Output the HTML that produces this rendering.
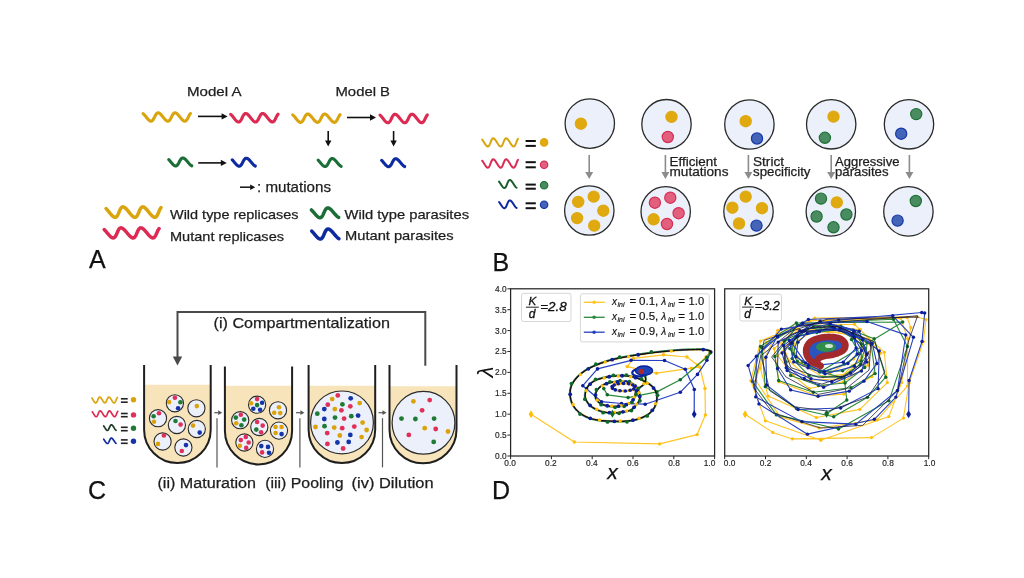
<!DOCTYPE html>
<html><head><meta charset="utf-8"><style>
html,body{margin:0;padding:0;background:#fff;}
svg{display:block;will-change:transform;filter:blur(0.3px);}
</style></head><body>
<svg width="1024" height="578" viewBox="0 0 1024 578">
<rect width="1024" height="578" fill="#fff"/>
<text x="187" y="95.6" font-family="Liberation Sans" font-size="13.4" fill="#1e1e1e" stroke="#1e1e1e" stroke-width="0.25" textLength="54.5" lengthAdjust="spacingAndGlyphs" style="" >Model A</text>
<text x="335.5" y="95.6" font-family="Liberation Sans" font-size="13.4" fill="#1e1e1e" stroke="#1e1e1e" stroke-width="0.25" textLength="54.5" lengthAdjust="spacingAndGlyphs" style="" >Model B</text>
<polyline points="143.10,113.64 143.79,114.27 144.50,115.03 145.23,115.88 145.96,116.80 146.70,117.72 147.43,118.60 148.14,119.41 148.84,120.10 149.52,120.65 150.17,121.01 150.79,121.19 151.37,121.16 151.93,120.93 152.46,120.51 152.96,119.92 153.44,119.19 153.90,118.36 154.35,117.46 154.80,116.53 155.25,115.63 155.72,114.80 156.20,114.07 156.70,113.49 157.23,113.07 157.78,112.84 158.37,112.81 158.99,112.99 159.64,113.36 160.31,113.90 161.01,114.60 161.73,115.41 162.46,116.29 163.19,117.21 163.93,118.12 164.65,118.98 165.36,119.74 166.05,120.37 166.72,120.84 167.35,121.12 167.96,121.20 168.53,121.08 169.07,120.76 169.59,120.26 170.08,119.61 170.55,118.82 171.01,117.96 171.46,117.04 171.91,116.12 172.36,115.25 172.83,114.45 173.32,113.79 173.83,113.27 174.37,112.94 174.94,112.80 175.55,112.87 176.18,113.13 176.84,113.58 177.53,114.20 178.24,114.95 178.96,115.80 179.69,116.71 180.43,117.63 181.16,118.52 181.88,119.34 182.58,120.04 183.26,120.60 183.91,120.99 184.53,121.18 185.12,121.17 185.68,120.96 186.21,120.56 186.71,119.98 187.19,119.27 187.66,118.44 188.11,117.54 188.56,116.62 189.01,115.72 189.47,114.87 189.95,114.13 190.45,113.53" fill="none" stroke="#D9A40E" stroke-width="3.1" stroke-linecap="round" stroke-linejoin="round"/>
<polyline points="230.70,114.31 231.39,114.95 232.10,115.73 232.83,116.61 233.56,117.54 234.30,118.48 235.03,119.39 235.74,120.22 236.44,120.93 237.12,121.48 237.77,121.86 238.39,122.04 238.97,122.01 239.53,121.77 240.06,121.34 240.56,120.74 241.04,119.99 241.50,119.14 241.95,118.22 242.40,117.27 242.85,116.35 243.32,115.50 243.80,114.75 244.30,114.15 244.83,113.72 245.38,113.49 245.97,113.46 246.59,113.64 247.24,114.02 247.91,114.58 248.61,115.29 249.33,116.12 250.06,117.03 250.79,117.97 251.53,118.90 252.25,119.78 252.96,120.56 253.65,121.20 254.32,121.68 254.95,121.96 255.56,122.05 256.13,121.93 256.67,121.60 257.19,121.09 257.68,120.42 258.15,119.62 258.61,118.73 259.06,117.79 259.51,116.85 259.96,115.95 260.43,115.14 260.92,114.46 261.43,113.94 261.97,113.59 262.54,113.45 263.15,113.52 263.78,113.79 264.44,114.25 265.13,114.88 265.84,115.65 266.56,116.52 267.29,117.45 268.03,118.40 268.76,119.31 269.48,120.15 270.18,120.87 270.86,121.44 271.51,121.83 272.13,122.03 272.72,122.02 273.28,121.80 273.81,121.39 274.31,120.80 274.79,120.07 275.26,119.22 275.71,118.31 276.16,117.36 276.61,116.44 277.07,115.57 277.55,114.82 278.05,114.20" fill="none" stroke="#DC2A52" stroke-width="3.1" stroke-linecap="round" stroke-linejoin="round"/>
<polyline points="292.70,114.84 293.39,115.47 294.10,116.23 294.83,117.08 295.56,118.00 296.30,118.92 297.03,119.80 297.74,120.61 298.44,121.30 299.12,121.85 299.77,122.21 300.39,122.39 300.97,122.36 301.53,122.13 302.06,121.71 302.56,121.12 303.04,120.39 303.50,119.56 303.95,118.66 304.40,117.73 304.85,116.83 305.32,116.00 305.80,115.27 306.30,114.69 306.83,114.27 307.38,114.04 307.97,114.01 308.59,114.19 309.24,114.56 309.91,115.10 310.61,115.80 311.33,116.61 312.06,117.49 312.79,118.41 313.53,119.32 314.25,120.18 314.96,120.94 315.65,121.57 316.32,122.04 316.95,122.32 317.56,122.40 318.13,122.28 318.67,121.96 319.19,121.46 319.68,120.81 320.15,120.02 320.61,119.16 321.06,118.24 321.51,117.32 321.96,116.45 322.43,115.65 322.92,114.99 323.43,114.47 323.97,114.14 324.54,114.00 325.15,114.07 325.78,114.33 326.44,114.78 327.13,115.40 327.84,116.15 328.56,117.00 329.29,117.91 330.03,118.83 330.76,119.72 331.48,120.54 332.18,121.24 332.86,121.80 333.51,122.19 334.13,122.38 334.72,122.37 335.28,122.16 335.81,121.76 336.31,121.18 336.79,120.47 337.26,119.64 337.71,118.74 338.16,117.82 338.61,116.92 339.07,116.07 339.55,115.33 340.05,114.73" fill="none" stroke="#D9A40E" stroke-width="3.1" stroke-linecap="round" stroke-linejoin="round"/>
<polyline points="380.00,115.06 380.69,115.70 381.40,116.48 382.13,117.36 382.86,118.29 383.60,119.23 384.33,120.14 385.04,120.97 385.74,121.68 386.42,122.23 387.07,122.61 387.69,122.79 388.27,122.76 388.83,122.52 389.36,122.09 389.86,121.49 390.34,120.74 390.80,119.89 391.25,118.97 391.70,118.02 392.15,117.10 392.62,116.25 393.10,115.50 393.60,114.90 394.13,114.47 394.68,114.24 395.27,114.21 395.89,114.39 396.54,114.77 397.21,115.33 397.91,116.04 398.63,116.87 399.36,117.78 400.09,118.72 400.83,119.65 401.55,120.53 402.26,121.31 402.95,121.95 403.62,122.43 404.25,122.71 404.86,122.80 405.43,122.68 405.97,122.35 406.49,121.84 406.98,121.17 407.45,120.37 407.91,119.48 408.36,118.54 408.81,117.60 409.26,116.70 409.73,115.89 410.22,115.21 410.73,114.69 411.27,114.34 411.84,114.20 412.45,114.27 413.08,114.54 413.74,115.00 414.43,115.63 415.14,116.40 415.86,117.27 416.59,118.20 417.33,119.15 418.06,120.06 418.78,120.90 419.48,121.62 420.16,122.19 420.81,122.58 421.43,122.78 422.02,122.77 422.58,122.55 423.11,122.14 423.61,121.55 424.09,120.82 424.56,119.97 425.01,119.06 425.46,118.11 425.91,117.19 426.37,116.32 426.85,115.57 427.35,114.95" fill="none" stroke="#DC2A52" stroke-width="3.1" stroke-linecap="round" stroke-linejoin="round"/>
<line x1="198" y1="116.4" x2="222.1" y2="116.4" stroke="#111" stroke-width="1.6"/>
<polygon points="227.6,116.4 221.6,113.2 221.6,119.60000000000001" fill="#111"/>
<line x1="347" y1="117.5" x2="370.5" y2="117.5" stroke="#111" stroke-width="1.6"/>
<polygon points="376,117.5 370,114.3 370,120.7" fill="#111"/>
<polyline points="168.75,159.60 169.08,159.94 169.42,160.30 169.75,160.68 170.09,161.08 170.43,161.48 170.77,161.89 171.11,162.30 171.46,162.70 171.80,163.10 172.13,163.48 172.47,163.85 172.80,164.20 173.13,164.53 173.45,164.83 173.77,165.10 174.08,165.33 174.39,165.53 174.69,165.70 174.99,165.82 175.28,165.90 175.56,165.94 175.83,165.94 176.10,165.90 176.36,165.82 176.62,165.70 176.87,165.54 177.11,165.34 177.35,165.10 177.58,164.83 177.81,164.53 178.03,164.21 178.25,163.86 178.46,163.49 178.67,163.11 178.89,162.71 179.09,162.30 179.30,161.89 179.51,161.49 179.72,161.08 179.93,160.69 180.15,160.31 180.36,159.94 180.58,159.60 180.80,159.28 181.03,158.99 181.27,158.73 181.50,158.51 181.75,158.32 182.00,158.17 182.26,158.05 182.52,157.98 182.79,157.95 183.07,157.96 183.35,158.02 183.64,158.11 183.94,158.25 184.24,158.42 184.55,158.63 184.87,158.87 185.19,159.15 185.51,159.46 185.84,159.79 186.17,160.15 186.51,160.52 186.85,160.91 187.19,161.31 187.53,161.71 187.87,162.12 188.21,162.53 188.55,162.93 188.89,163.32 189.23,163.70 189.56,164.06 189.89,164.39 190.21,164.70 190.54,164.99 190.85,165.24 191.16,165.45 191.47,165.63 191.76,165.77" fill="none" stroke="#1B6E38" stroke-width="3.1" stroke-linecap="round" stroke-linejoin="round"/>
<polyline points="232.25,159.85 232.58,160.19 232.92,160.55 233.25,160.93 233.59,161.33 233.93,161.73 234.27,162.14 234.61,162.55 234.96,162.95 235.30,163.35 235.63,163.73 235.97,164.10 236.30,164.45 236.63,164.78 236.95,165.08 237.27,165.35 237.58,165.58 237.89,165.78 238.19,165.95 238.49,166.07 238.78,166.15 239.06,166.19 239.33,166.19 239.60,166.15 239.86,166.07 240.12,165.95 240.37,165.79 240.61,165.59 240.85,165.35 241.08,165.08 241.31,164.78 241.53,164.46 241.75,164.11 241.96,163.74 242.17,163.36 242.39,162.96 242.59,162.55 242.80,162.14 243.01,161.74 243.22,161.33 243.43,160.94 243.65,160.56 243.86,160.19 244.08,159.85 244.30,159.53 244.53,159.24 244.77,158.98 245.00,158.76 245.25,158.57 245.50,158.42 245.76,158.30 246.02,158.23 246.29,158.20 246.57,158.21 246.85,158.27 247.14,158.36 247.44,158.50 247.74,158.67 248.05,158.88 248.37,159.12 248.69,159.40 249.01,159.71 249.34,160.04 249.67,160.40 250.01,160.77 250.35,161.16 250.69,161.56 251.03,161.96 251.37,162.37 251.71,162.78 252.05,163.18 252.39,163.57 252.73,163.95 253.06,164.31 253.39,164.64 253.71,164.95 254.04,165.24 254.35,165.49 254.66,165.70 254.97,165.88 255.26,166.02" fill="none" stroke="#0D2AA0" stroke-width="3.1" stroke-linecap="round" stroke-linejoin="round"/>
<polyline points="318.15,160.15 318.48,160.49 318.82,160.85 319.15,161.23 319.49,161.63 319.83,162.03 320.17,162.44 320.51,162.85 320.86,163.25 321.20,163.65 321.53,164.03 321.87,164.40 322.20,164.75 322.53,165.08 322.85,165.38 323.17,165.65 323.48,165.88 323.79,166.08 324.09,166.25 324.39,166.37 324.68,166.45 324.96,166.49 325.23,166.49 325.50,166.45 325.76,166.37 326.02,166.25 326.27,166.09 326.51,165.89 326.75,165.65 326.98,165.38 327.21,165.08 327.43,164.76 327.65,164.41 327.86,164.04 328.07,163.66 328.29,163.26 328.49,162.85 328.70,162.44 328.91,162.04 329.12,161.63 329.33,161.24 329.55,160.86 329.76,160.49 329.98,160.15 330.20,159.83 330.43,159.54 330.67,159.28 330.90,159.06 331.15,158.87 331.40,158.72 331.66,158.60 331.92,158.53 332.19,158.50 332.47,158.51 332.75,158.57 333.04,158.66 333.34,158.80 333.64,158.97 333.95,159.18 334.27,159.42 334.59,159.70 334.91,160.01 335.24,160.34 335.57,160.70 335.91,161.07 336.25,161.46 336.59,161.86 336.93,162.26 337.27,162.67 337.61,163.08 337.95,163.48 338.29,163.87 338.63,164.25 338.96,164.61 339.29,164.94 339.61,165.25 339.94,165.54 340.25,165.79 340.56,166.00 340.87,166.18 341.16,166.32" fill="none" stroke="#1B6E38" stroke-width="3.1" stroke-linecap="round" stroke-linejoin="round"/>
<polyline points="381.65,160.35 381.98,160.69 382.32,161.05 382.65,161.43 382.99,161.83 383.33,162.23 383.67,162.64 384.01,163.05 384.36,163.45 384.70,163.85 385.03,164.23 385.37,164.60 385.70,164.95 386.03,165.28 386.35,165.58 386.67,165.85 386.98,166.08 387.29,166.28 387.59,166.45 387.89,166.57 388.18,166.65 388.46,166.69 388.73,166.69 389.00,166.65 389.26,166.57 389.52,166.45 389.77,166.29 390.01,166.09 390.25,165.85 390.48,165.58 390.71,165.28 390.93,164.96 391.15,164.61 391.36,164.24 391.57,163.86 391.79,163.46 391.99,163.05 392.20,162.64 392.41,162.24 392.62,161.83 392.83,161.44 393.05,161.06 393.26,160.69 393.48,160.35 393.70,160.03 393.93,159.74 394.17,159.48 394.40,159.26 394.65,159.07 394.90,158.92 395.16,158.80 395.42,158.73 395.69,158.70 395.97,158.71 396.25,158.77 396.54,158.86 396.84,159.00 397.14,159.17 397.45,159.38 397.77,159.62 398.09,159.90 398.41,160.21 398.74,160.54 399.07,160.90 399.41,161.27 399.75,161.66 400.09,162.06 400.43,162.46 400.77,162.87 401.11,163.28 401.45,163.68 401.79,164.07 402.13,164.45 402.46,164.81 402.79,165.14 403.11,165.45 403.44,165.74 403.75,165.99 404.06,166.20 404.37,166.38 404.66,166.52" fill="none" stroke="#0D2AA0" stroke-width="3.1" stroke-linecap="round" stroke-linejoin="round"/>
<line x1="198.2" y1="162.9" x2="221.3" y2="162.9" stroke="#111" stroke-width="1.6"/>
<polygon points="226.8,162.9 220.8,159.70000000000002 220.8,166.1" fill="#111"/>
<line x1="328.2" y1="131" x2="328.2" y2="141.1" stroke="#111" stroke-width="1.6"/>
<polygon points="328.2,146.6 325.0,140.6 331.4,140.6" fill="#111"/>
<line x1="393.6" y1="131" x2="393.6" y2="141.1" stroke="#111" stroke-width="1.6"/>
<polygon points="393.6,146.6 390.40000000000003,140.6 396.8,140.6" fill="#111"/>
<line x1="240" y1="187.2" x2="250.7" y2="187.2" stroke="#111" stroke-width="1.5"/>
<polygon points="255.2,187.2 250.2,184.39999999999998 250.2,190.0" fill="#111"/>
<text x="257" y="191.5" font-family="Liberation Sans" font-size="14" fill="#1e1e1e" stroke="#1e1e1e" stroke-width="0.25" textLength="74" lengthAdjust="spacingAndGlyphs" style="" >: mutations</text>
<polyline points="106.08,208.60 106.96,209.53 107.86,210.58 108.77,211.71 109.69,212.85 110.60,213.96 111.50,214.98 112.36,215.86 113.19,216.56 113.98,217.06 114.72,217.31 115.41,217.32 116.05,217.09 116.65,216.61 117.20,215.92 117.72,215.05 118.20,214.04 118.67,212.94 119.13,211.80 119.60,210.67 120.07,209.61 120.58,208.67 121.11,207.89 121.68,207.31 122.30,206.96 122.97,206.85 123.69,206.99 124.45,207.37 125.26,207.98 126.11,208.78 126.99,209.74 127.90,210.81 128.81,211.95 129.73,213.09 130.64,214.18 131.53,215.17 132.39,216.02 133.21,216.68 133.99,217.13 134.72,217.34 135.40,217.29 136.03,217.01 136.62,216.48 137.16,215.76 137.67,214.85 138.15,213.82 138.62,212.71 139.08,211.56 139.54,210.44 140.03,209.41 140.53,208.49 141.07,207.75 141.66,207.22 142.29,206.92 142.96,206.86 143.69,207.05 144.47,207.48 145.29,208.13 146.14,208.97 147.03,209.96 147.94,211.05 148.86,212.18 149.77,213.32 150.68,214.40 151.56,215.36 152.41,216.18 153.22,216.80 153.99,217.19 154.71,217.35 155.38,217.25 156.01,216.92 156.58,216.35 157.12,215.58 157.62,214.65 158.10,213.59 158.56,212.47 159.03,211.33 159.49,210.22 159.98,209.20 160.49,208.32 161.04,207.62" fill="none" stroke="#D9A40E" stroke-width="3.5" stroke-linecap="round" stroke-linejoin="round"/>
<polyline points="104.18,229.54 105.06,230.43 105.96,231.44 106.87,232.52 107.79,233.62 108.70,234.69 109.60,235.67 110.46,236.52 111.29,237.19 112.08,237.67 112.82,237.92 113.51,237.92 114.15,237.70 114.75,237.24 115.30,236.58 115.82,235.74 116.30,234.77 116.77,233.71 117.23,232.61 117.70,231.53 118.17,230.51 118.68,229.60 119.21,228.85 119.78,228.29 120.40,227.95 121.07,227.85 121.79,227.99 122.55,228.35 123.36,228.94 124.21,229.71 125.09,230.63 126.00,231.66 126.91,232.75 127.83,233.85 128.74,234.90 129.63,235.86 130.49,236.67 131.31,237.31 132.09,237.74 132.82,237.94 133.50,237.90 134.13,237.62 134.72,237.12 135.26,236.42 135.77,235.55 136.25,234.55 136.72,233.48 137.18,232.38 137.64,231.31 138.13,230.31 138.63,229.43 139.17,228.72 139.76,228.20 140.39,227.91 141.06,227.86 141.79,228.04 142.57,228.46 143.39,229.08 144.24,229.89 145.13,230.84 146.04,231.89 146.96,232.98 147.87,234.07 148.78,235.11 149.66,236.04 150.51,236.82 151.32,237.42 152.09,237.80 152.81,237.95 153.48,237.86 154.11,237.53 154.68,236.99 155.22,236.25 155.72,235.35 156.20,234.34 156.66,233.25 157.13,232.16 157.59,231.09 158.08,230.11 158.59,229.27 159.14,228.59" fill="none" stroke="#DC2A52" stroke-width="3.5" stroke-linecap="round" stroke-linejoin="round"/>
<polyline points="311.38,209.92 311.79,210.33 312.21,210.78 312.63,211.24 313.05,211.72 313.48,212.21 313.91,212.71 314.33,213.20 314.76,213.70 315.19,214.18 315.61,214.65 316.03,215.10 316.44,215.53 316.85,215.93 317.25,216.29 317.64,216.63 318.02,216.92 318.40,217.16 318.76,217.37 319.11,217.52 319.46,217.63 319.79,217.69 320.12,217.70 320.43,217.65 320.73,217.56 321.02,217.42 321.30,217.23 321.57,216.99 321.83,216.71 322.08,216.39 322.33,216.03 322.57,215.64 322.80,215.22 323.02,214.78 323.24,214.31 323.46,213.83 323.68,213.34 323.89,212.85 324.11,212.35 324.32,211.85 324.54,211.37 324.76,210.90 324.99,210.45 325.22,210.03 325.45,209.63 325.70,209.27 325.95,208.94 326.21,208.66 326.48,208.41 326.75,208.21 327.04,208.06 327.34,207.96 327.65,207.91 327.97,207.91 328.31,207.95 328.65,208.05 329.00,208.20 329.36,208.39 329.74,208.64 330.12,208.92 330.51,209.24 330.91,209.60 331.31,210.00 331.72,210.42 332.14,210.87 332.56,211.33 332.99,211.81 333.41,212.31 333.84,212.80 334.27,213.30 334.70,213.79 335.12,214.28 335.54,214.74 335.96,215.19 336.37,215.61 336.77,216.00 337.17,216.36 337.56,216.69 337.95,216.97 338.32,217.21 338.68,217.40" fill="none" stroke="#1B6E38" stroke-width="3.5" stroke-linecap="round" stroke-linejoin="round"/>
<polyline points="311.68,231.06 312.09,231.48 312.51,231.93 312.93,232.41 313.35,232.90 313.78,233.40 314.21,233.90 314.63,234.41 315.06,234.92 315.49,235.41 315.91,235.89 316.33,236.35 316.74,236.79 317.15,237.19 317.55,237.57 317.94,237.90 318.32,238.20 318.70,238.45 319.06,238.66 319.41,238.82 319.76,238.93 320.09,238.99 320.42,239.00 320.73,238.95 321.03,238.86 321.32,238.71 321.60,238.52 321.87,238.28 322.13,237.99 322.38,237.66 322.63,237.30 322.87,236.90 323.10,236.47 323.32,236.02 323.54,235.55 323.76,235.05 323.98,234.55 324.19,234.05 324.41,233.54 324.62,233.04 324.84,232.54 325.06,232.06 325.29,231.61 325.52,231.17 325.75,230.77 326.00,230.40 326.25,230.07 326.51,229.77 326.78,229.52 327.05,229.32 327.34,229.17 327.64,229.06 327.95,229.01 328.27,229.01 328.61,229.05 328.95,229.16 329.30,229.31 329.66,229.50 330.04,229.75 330.42,230.04 330.81,230.37 331.21,230.74 331.61,231.14 332.02,231.57 332.44,232.03 332.86,232.50 333.29,232.99 333.71,233.50 334.14,234.00 334.57,234.51 335.00,235.01 335.42,235.51 335.84,235.98 336.26,236.44 336.67,236.87 337.07,237.27 337.47,237.64 337.86,237.97 338.25,238.25 338.62,238.50 338.98,238.70" fill="none" stroke="#0D2AA0" stroke-width="3.5" stroke-linecap="round" stroke-linejoin="round"/>
<text x="170" y="219.4" font-family="Liberation Sans" font-size="13.4" fill="#1e1e1e" stroke="#1e1e1e" stroke-width="0.25" textLength="128.5" lengthAdjust="spacingAndGlyphs" style="" >Wild type replicases</text>
<text x="170" y="240.6" font-family="Liberation Sans" font-size="13.4" fill="#1e1e1e" stroke="#1e1e1e" stroke-width="0.25" textLength="114" lengthAdjust="spacingAndGlyphs" style="" >Mutant replicases</text>
<text x="344.5" y="219.1" font-family="Liberation Sans" font-size="13.4" fill="#1e1e1e" stroke="#1e1e1e" stroke-width="0.25" textLength="124.5" lengthAdjust="spacingAndGlyphs" style="" >Wild type parasites</text>
<text x="345" y="240.0" font-family="Liberation Sans" font-size="13.4" fill="#1e1e1e" stroke="#1e1e1e" stroke-width="0.25" textLength="108.5" lengthAdjust="spacingAndGlyphs" style="" >Mutant parasites</text>
<text x="89" y="268" font-family="Liberation Sans" font-size="25" fill="#111" stroke="#111" stroke-width="0.25" style="" >A</text>
<circle cx="589.8" cy="123.6" r="24.7" fill="#EBF0FA" stroke="#2b2b2b" stroke-width="1.3"/>
<circle cx="580.9" cy="123.7" r="5.6000000000000005" fill="#DFA90F" stroke="#DFA90F" stroke-width="1.2"/>
<circle cx="666.5" cy="124.2" r="24.7" fill="#EBF0FA" stroke="#2b2b2b" stroke-width="1.3"/>
<circle cx="671.5" cy="116.9" r="5.6000000000000005" fill="#DFA90F" stroke="#DFA90F" stroke-width="1.2"/>
<circle cx="667.8" cy="137.0" r="5.6000000000000005" fill="#E2607E" stroke="#D42E55" stroke-width="1.2"/>
<circle cx="749.4" cy="124.5" r="24.7" fill="#EBF0FA" stroke="#2b2b2b" stroke-width="1.3"/>
<circle cx="745.7" cy="121.2" r="5.6000000000000005" fill="#DFA90F" stroke="#DFA90F" stroke-width="1.2"/>
<circle cx="757.0" cy="138.5" r="5.6000000000000005" fill="#4464B8" stroke="#1537A8" stroke-width="1.2"/>
<circle cx="831.2" cy="124.3" r="24.7" fill="#EBF0FA" stroke="#2b2b2b" stroke-width="1.3"/>
<circle cx="833.5" cy="116.6" r="5.6000000000000005" fill="#DFA90F" stroke="#DFA90F" stroke-width="1.2"/>
<circle cx="824.9" cy="137.8" r="5.6000000000000005" fill="#4B8B62" stroke="#1D7234" stroke-width="1.2"/>
<circle cx="909.0" cy="124.3" r="24.7" fill="#EBF0FA" stroke="#2b2b2b" stroke-width="1.3"/>
<circle cx="916.2" cy="114.1" r="5.6000000000000005" fill="#4B8B62" stroke="#1D7234" stroke-width="1.2"/>
<circle cx="901.2" cy="133.7" r="5.6000000000000005" fill="#4464B8" stroke="#1537A8" stroke-width="1.2"/>
<circle cx="589.3" cy="210.5" r="24.7" fill="#EBF0FA" stroke="#2b2b2b" stroke-width="1.3"/>
<circle cx="593.7" cy="196.6" r="5.6000000000000005" fill="#DFA90F" stroke="#DFA90F" stroke-width="1.2"/>
<circle cx="578.2" cy="201.9" r="5.6000000000000005" fill="#DFA90F" stroke="#DFA90F" stroke-width="1.2"/>
<circle cx="603.3" cy="210.7" r="5.6000000000000005" fill="#DFA90F" stroke="#DFA90F" stroke-width="1.2"/>
<circle cx="577.1" cy="218.1" r="5.6000000000000005" fill="#DFA90F" stroke="#DFA90F" stroke-width="1.2"/>
<circle cx="594.2" cy="225.6" r="5.6000000000000005" fill="#DFA90F" stroke="#DFA90F" stroke-width="1.2"/>
<circle cx="665.7" cy="211.4" r="24.7" fill="#EBF0FA" stroke="#2b2b2b" stroke-width="1.3"/>
<circle cx="670.3" cy="197.7" r="5.6000000000000005" fill="#E2607E" stroke="#D42E55" stroke-width="1.2"/>
<circle cx="654.9" cy="202.7" r="5.6000000000000005" fill="#E2607E" stroke="#D42E55" stroke-width="1.2"/>
<circle cx="678.6" cy="213.2" r="5.6000000000000005" fill="#E2607E" stroke="#D42E55" stroke-width="1.2"/>
<circle cx="653.6" cy="219.3" r="5.6000000000000005" fill="#DFA90F" stroke="#DFA90F" stroke-width="1.2"/>
<circle cx="667.0" cy="224.0" r="5.6000000000000005" fill="#E2607E" stroke="#D42E55" stroke-width="1.2"/>
<circle cx="748.5" cy="211.4" r="24.7" fill="#EBF0FA" stroke="#2b2b2b" stroke-width="1.3"/>
<circle cx="745.7" cy="196.6" r="5.6000000000000005" fill="#DFA90F" stroke="#DFA90F" stroke-width="1.2"/>
<circle cx="732.4" cy="207.7" r="5.6000000000000005" fill="#DFA90F" stroke="#DFA90F" stroke-width="1.2"/>
<circle cx="762.0" cy="208.2" r="5.6000000000000005" fill="#DFA90F" stroke="#DFA90F" stroke-width="1.2"/>
<circle cx="739.0" cy="223.5" r="5.6000000000000005" fill="#DFA90F" stroke="#DFA90F" stroke-width="1.2"/>
<circle cx="756.5" cy="225.6" r="5.6000000000000005" fill="#4464B8" stroke="#1537A8" stroke-width="1.2"/>
<circle cx="830.8" cy="211.4" r="24.7" fill="#EBF0FA" stroke="#2b2b2b" stroke-width="1.3"/>
<circle cx="821.0" cy="198.6" r="5.6000000000000005" fill="#4B8B62" stroke="#1D7234" stroke-width="1.2"/>
<circle cx="836.8" cy="202.4" r="5.6000000000000005" fill="#DFA90F" stroke="#DFA90F" stroke-width="1.2"/>
<circle cx="816.6" cy="216.5" r="5.6000000000000005" fill="#4B8B62" stroke="#1D7234" stroke-width="1.2"/>
<circle cx="846.4" cy="214.5" r="5.6000000000000005" fill="#4B8B62" stroke="#1D7234" stroke-width="1.2"/>
<circle cx="833.5" cy="227.3" r="5.6000000000000005" fill="#4B8B62" stroke="#1D7234" stroke-width="1.2"/>
<circle cx="908.4" cy="211.4" r="24.7" fill="#EBF0FA" stroke="#2b2b2b" stroke-width="1.3"/>
<circle cx="915.8" cy="201.0" r="5.6000000000000005" fill="#4B8B62" stroke="#1D7234" stroke-width="1.2"/>
<circle cx="897.6" cy="220.6" r="5.6000000000000005" fill="#4464B8" stroke="#1537A8" stroke-width="1.2"/>
<line x1="589.2" y1="155" x2="589.2" y2="172.5" stroke="#8C8C8C" stroke-width="1.6"/>
<polygon points="589.2,179 585.2,172 593.2,172" fill="#8C8C8C"/>
<line x1="665.4" y1="155" x2="665.4" y2="172.5" stroke="#8C8C8C" stroke-width="1.6"/>
<polygon points="665.4,179 661.4,172 669.4,172" fill="#8C8C8C"/>
<line x1="748.4" y1="155" x2="748.4" y2="172.5" stroke="#8C8C8C" stroke-width="1.6"/>
<polygon points="748.4,179 744.4,172 752.4,172" fill="#8C8C8C"/>
<line x1="831.2" y1="155" x2="831.2" y2="172.5" stroke="#8C8C8C" stroke-width="1.6"/>
<polygon points="831.2,179 827.2,172 835.2,172" fill="#8C8C8C"/>
<line x1="909.4" y1="155" x2="909.4" y2="172.5" stroke="#8C8C8C" stroke-width="1.6"/>
<polygon points="909.4,179 905.4,172 913.4,172" fill="#8C8C8C"/>
<text x="669.5" y="166" font-family="Liberation Sans" font-size="12.2" fill="#1e1e1e" stroke="#1e1e1e" stroke-width="0.25" textLength="47.5" lengthAdjust="spacingAndGlyphs" style="" >Efficient</text>
<text x="669.5" y="176.3" font-family="Liberation Sans" font-size="12.2" fill="#1e1e1e" stroke="#1e1e1e" stroke-width="0.25" textLength="59" lengthAdjust="spacingAndGlyphs" style="" >mutations</text>
<text x="753" y="166" font-family="Liberation Sans" font-size="12.2" fill="#1e1e1e" stroke="#1e1e1e" stroke-width="0.25" textLength="31" lengthAdjust="spacingAndGlyphs" style="" >Strict</text>
<text x="753" y="176.3" font-family="Liberation Sans" font-size="12.2" fill="#1e1e1e" stroke="#1e1e1e" stroke-width="0.25" textLength="57.5" lengthAdjust="spacingAndGlyphs" style="" >specificity</text>
<text x="835" y="166" font-family="Liberation Sans" font-size="12.2" fill="#1e1e1e" stroke="#1e1e1e" stroke-width="0.25" textLength="64.5" lengthAdjust="spacingAndGlyphs" style="" >Aggressive</text>
<text x="835" y="176.3" font-family="Liberation Sans" font-size="12.2" fill="#1e1e1e" stroke="#1e1e1e" stroke-width="0.25" textLength="53.5" lengthAdjust="spacingAndGlyphs" style="" >parasites</text>
<polyline points="482.24,139.67 482.78,140.39 483.33,141.22 483.88,142.09 484.44,142.99 485.00,143.85 485.54,144.65 486.07,145.34 486.59,145.89 487.08,146.27 487.55,146.47 488.00,146.48 488.43,146.29 488.83,145.92 489.21,145.39 489.58,144.71 489.93,143.92 490.27,143.06 490.61,142.17 490.95,141.28 491.30,140.46 491.66,139.72 492.03,139.11 492.43,138.66 492.84,138.39 493.28,138.30 493.74,138.41 494.22,138.71 494.73,139.18 495.26,139.81 495.79,140.56 496.34,141.40 496.90,142.28 497.46,143.17 498.01,144.02 498.55,144.80 499.08,145.46 499.59,145.98 500.08,146.33 500.55,146.49 500.99,146.46 501.41,146.23 501.81,145.82 502.19,145.26 502.55,144.55 502.90,143.74 503.25,142.87 503.58,141.98 503.93,141.11 504.28,140.30 504.64,139.58 505.01,139.01 505.41,138.59 505.83,138.35 506.27,138.31 506.74,138.46 507.23,138.79 507.74,139.30 508.27,139.96 508.81,140.73 509.36,141.58 509.92,142.47 510.47,143.35 511.02,144.19 511.56,144.95 512.09,145.58 512.60,146.07 513.08,146.38 513.54,146.50 513.98,146.43 514.40,146.16 514.79,145.72 515.17,145.12 515.53,144.39 515.87,143.57 516.22,142.69 516.55,141.80 516.90,140.93 517.25,140.14 517.61,139.45 517.99,138.90" fill="none" stroke="#D9A40E" stroke-width="2.0" stroke-linecap="round" stroke-linejoin="round"/>
<polyline points="482.24,160.70 482.78,161.45 483.33,162.29 483.88,163.19 484.44,164.10 485.00,164.99 485.54,165.80 486.07,166.51 486.59,167.07 487.08,167.47 487.55,167.67 488.00,167.68 488.43,167.49 488.83,167.11 489.21,166.56 489.58,165.86 489.93,165.05 490.27,164.17 490.61,163.26 490.95,162.36 491.30,161.51 491.66,160.76 492.03,160.13 492.43,159.67 492.84,159.39 493.28,159.30 493.74,159.41 494.22,159.72 494.73,160.20 495.26,160.85 495.79,161.61 496.34,162.47 496.90,163.38 497.46,164.29 498.01,165.16 498.55,165.96 499.08,166.64 499.59,167.17 500.08,167.52 500.55,167.69 500.99,167.66 501.41,167.42 501.81,167.01 502.19,166.42 502.55,165.70 502.90,164.88 503.25,163.98 503.58,163.07 503.93,162.18 504.28,161.34 504.64,160.61 505.01,160.02 505.41,159.60 505.83,159.35 506.27,159.31 506.74,159.46 507.23,159.81 507.74,160.33 508.27,161.00 508.81,161.79 509.36,162.66 509.92,163.57 510.47,164.48 511.02,165.34 511.56,166.11 512.09,166.76 512.60,167.26 513.08,167.57 513.54,167.70 513.98,167.62 514.40,167.35 514.79,166.90 515.17,166.29 515.53,165.54 515.87,164.70 516.22,163.80 516.55,162.88 516.90,162.00 517.25,161.18 517.61,160.48 517.99,159.92" fill="none" stroke="#DC2A52" stroke-width="2.0" stroke-linecap="round" stroke-linejoin="round"/>
<polyline points="499.09,181.65 499.34,181.99 499.59,182.35 499.85,182.73 500.11,183.12 500.37,183.52 500.63,183.92 500.89,184.33 501.14,184.73 501.40,185.13 501.66,185.51 501.91,185.88 502.17,186.23 502.42,186.55 502.66,186.85 502.90,187.12 503.14,187.36 503.38,187.56 503.61,187.73 503.83,187.86 504.05,187.94 504.27,187.99 504.47,188.00 504.68,187.96 504.88,187.89 505.07,187.77 505.26,187.61 505.45,187.42 505.63,187.19 505.80,186.93 505.98,186.64 506.14,186.32 506.31,185.98 506.47,185.62 506.63,185.24 506.79,184.84 506.95,184.44 507.11,184.04 507.27,183.63 507.43,183.23 507.59,182.83 507.75,182.45 507.91,182.09 508.08,181.74 508.24,181.42 508.42,181.12 508.59,180.85 508.77,180.62 508.95,180.42 509.14,180.26 509.34,180.13 509.53,180.05 509.74,180.01 509.95,180.00 510.16,180.04 510.38,180.12 510.60,180.24 510.83,180.40 511.06,180.60 511.30,180.83 511.54,181.10 511.79,181.39 512.04,181.71 512.29,182.06 512.54,182.42 512.80,182.80 513.06,183.20 513.32,183.60 513.58,184.00 513.84,184.41 514.10,184.81 514.35,185.20 514.61,185.59 514.86,185.95 515.12,186.29 515.36,186.61 515.61,186.91 515.85,187.17 516.09,187.40 516.32,187.60 516.55,187.76" fill="none" stroke="#1A5E2C" stroke-width="2.0" stroke-linecap="round" stroke-linejoin="round"/>
<polyline points="499.09,202.00 499.34,202.34 499.59,202.69 499.85,203.06 500.11,203.44 500.37,203.83 500.63,204.23 500.89,204.62 501.14,205.01 501.40,205.40 501.66,205.77 501.91,206.13 502.17,206.47 502.42,206.79 502.66,207.08 502.90,207.34 503.14,207.58 503.38,207.77 503.61,207.94 503.83,208.06 504.05,208.15 504.27,208.19 504.47,208.20 504.68,208.16 504.88,208.09 505.07,207.97 505.26,207.82 505.45,207.64 505.63,207.41 505.80,207.16 505.98,206.87 506.14,206.56 506.31,206.23 506.47,205.88 506.63,205.51 506.79,205.12 506.95,204.73 507.11,204.34 507.27,203.94 507.43,203.55 507.59,203.16 507.75,202.79 507.91,202.43 508.08,202.10 508.24,201.78 508.42,201.49 508.59,201.23 508.77,201.00 508.95,200.81 509.14,200.65 509.34,200.53 509.53,200.45 509.74,200.41 509.95,200.40 510.16,200.44 510.38,200.52 510.60,200.64 510.83,200.79 511.06,200.99 511.30,201.21 511.54,201.47 511.79,201.76 512.04,202.07 512.29,202.40 512.54,202.76 512.80,203.13 513.06,203.52 513.32,203.91 513.58,204.30 513.84,204.70 514.10,205.09 514.35,205.47 514.61,205.85 514.86,206.20 515.12,206.54 515.36,206.85 515.61,207.14 515.85,207.39 516.09,207.62 516.32,207.81 516.55,207.96" fill="none" stroke="#0D2AA0" stroke-width="2.0" stroke-linecap="round" stroke-linejoin="round"/>
<rect x="525.6" y="140" width="10.2" height="2" fill="#111"/>
<rect x="525.6" y="144.9" width="10.2" height="2" fill="#111"/>
<circle cx="544.1" cy="142.4" r="3.6999999999999997" fill="#DFA90F" stroke="#DFA90F" stroke-width="1.2"/>
<rect x="525.6" y="161.2" width="10.2" height="2" fill="#111"/>
<rect x="525.6" y="166.3" width="10.2" height="2" fill="#111"/>
<circle cx="544.1" cy="164.8" r="3.6999999999999997" fill="#E2607E" stroke="#D42E55" stroke-width="1.2"/>
<rect x="525.6" y="183.6" width="10.2" height="2" fill="#111"/>
<rect x="525.6" y="187.7" width="10.2" height="2" fill="#111"/>
<circle cx="544.1" cy="185.3" r="3.6999999999999997" fill="#4B8B62" stroke="#1D7234" stroke-width="1.2"/>
<rect x="525.6" y="202.3" width="10.2" height="2" fill="#111"/>
<rect x="525.6" y="207.2" width="10.2" height="2" fill="#111"/>
<circle cx="544.1" cy="204.7" r="3.6999999999999997" fill="#4464B8" stroke="#1537A8" stroke-width="1.2"/>
<text x="492.5" y="271.3" font-family="Liberation Sans" font-size="25" fill="#111" stroke="#111" stroke-width="0.25" style="" >B</text>
<path d="M144.1,384.8 L144.1,429.7 A33.3,33.3 0 0 0 210.7,429.7 L210.7,384.8 Z" fill="#F8E4BA"/>
<path d="M144.1,365 L144.1,429.7 A33.3,33.3 0 0 0 210.7,429.7 L210.7,365" fill="none" stroke="#1f1f1f" stroke-width="2"/>
<path d="M224.9,385.8 L224.9,430.79999999999995 A33.60000000000001,33.60000000000001 0 0 0 292.1,430.79999999999995 L292.1,385.8 Z" fill="#F8E4BA"/>
<path d="M224.9,366.5 L224.9,430.79999999999995 A33.60000000000001,33.60000000000001 0 0 0 292.1,430.79999999999995 L292.1,366.5" fill="none" stroke="#1f1f1f" stroke-width="2"/>
<path d="M308.6,385.8 L308.6,429.70000000000005 A33.29999999999998,33.29999999999998 0 0 0 375.2,429.70000000000005 L375.2,385.8 Z" fill="#F8E4BA"/>
<path d="M308.6,365 L308.6,429.70000000000005 A33.29999999999998,33.29999999999998 0 0 0 375.2,429.70000000000005 L375.2,365" fill="none" stroke="#1f1f1f" stroke-width="2"/>
<path d="M389.5,386.2 L389.5,429.8 A33.5,33.5 0 0 0 456.5,429.8 L456.5,386.2 Z" fill="#F8E4BA"/>
<path d="M389.5,365 L389.5,429.8 A33.5,33.5 0 0 0 456.5,429.8 L456.5,365" fill="none" stroke="#1f1f1f" stroke-width="2"/>
<circle cx="174.9" cy="403.3" r="8.6" fill="#EBF0FA" stroke="#2b2b2b" stroke-width="1.1"/>
<circle cx="174.9" cy="397.8" r="2.3" fill="#E0305A"/>
<circle cx="169.1" cy="402.1" r="2.3" fill="#DBA20C"/>
<circle cx="180.4" cy="402.3" r="2.3" fill="#1F7A36"/>
<circle cx="178.1" cy="408.3" r="2.3" fill="#1434A8"/>
<circle cx="196.4" cy="408.3" r="8.6" fill="#EBF0FA" stroke="#2b2b2b" stroke-width="1.1"/>
<circle cx="196.8" cy="406.1" r="2.3" fill="#DBA20C"/>
<circle cx="158.0" cy="418.2" r="8.6" fill="#EBF0FA" stroke="#2b2b2b" stroke-width="1.1"/>
<circle cx="159.0" cy="413.3" r="2.3" fill="#E0305A"/>
<circle cx="153.6" cy="416.2" r="2.3" fill="#1F7A36"/>
<circle cx="154.0" cy="421.8" r="2.3" fill="#DBA20C"/>
<circle cx="176.9" cy="425.0" r="8.6" fill="#EBF0FA" stroke="#2b2b2b" stroke-width="1.1"/>
<circle cx="175.5" cy="421.0" r="2.3" fill="#1F7A36"/>
<circle cx="180.6" cy="424.6" r="2.3" fill="#E0305A"/>
<circle cx="196.8" cy="429.0" r="8.6" fill="#EBF0FA" stroke="#2b2b2b" stroke-width="1.1"/>
<circle cx="193.0" cy="425.6" r="2.3" fill="#DBA20C"/>
<circle cx="199.7" cy="432.6" r="2.3" fill="#1434A8"/>
<circle cx="162.6" cy="441.5" r="8.6" fill="#EBF0FA" stroke="#2b2b2b" stroke-width="1.1"/>
<circle cx="163.9" cy="435.5" r="2.3" fill="#E0305A"/>
<circle cx="158.0" cy="443.9" r="2.3" fill="#DBA20C"/>
<circle cx="183.4" cy="447.5" r="8.6" fill="#EBF0FA" stroke="#2b2b2b" stroke-width="1.1"/>
<circle cx="186.0" cy="445.1" r="2.3" fill="#1434A8"/>
<circle cx="181.8" cy="451.0" r="2.3" fill="#E0305A"/>
<circle cx="257.1" cy="404.7" r="8.6" fill="#EBF0FA" stroke="#2b2b2b" stroke-width="1.1"/>
<circle cx="257.1" cy="399.1" r="2.3" fill="#E0305A"/>
<circle cx="251.1" cy="403.3" r="2.3" fill="#DBA20C"/>
<circle cx="257.1" cy="405.1" r="2.3" fill="#1F7A36"/>
<circle cx="262.1" cy="402.7" r="2.3" fill="#1434A8"/>
<circle cx="253.3" cy="408.7" r="2.3" fill="#1434A8"/>
<circle cx="260.1" cy="409.7" r="2.3" fill="#1434A8"/>
<circle cx="278.0" cy="410.3" r="8.6" fill="#EBF0FA" stroke="#2b2b2b" stroke-width="1.1"/>
<circle cx="279.0" cy="407.3" r="2.3" fill="#DBA20C"/>
<circle cx="274.2" cy="412.7" r="2.3" fill="#DBA20C"/>
<circle cx="280.2" cy="413.1" r="2.3" fill="#DBA20C"/>
<circle cx="240.2" cy="420.2" r="8.6" fill="#EBF0FA" stroke="#2b2b2b" stroke-width="1.1"/>
<circle cx="240.8" cy="414.7" r="2.3" fill="#E0305A"/>
<circle cx="235.8" cy="417.6" r="2.3" fill="#1F7A36"/>
<circle cx="244.2" cy="419.6" r="2.3" fill="#1F7A36"/>
<circle cx="236.2" cy="423.2" r="2.3" fill="#DBA20C"/>
<circle cx="241.4" cy="425.2" r="2.3" fill="#1F7A36"/>
<circle cx="259.3" cy="427.0" r="8.6" fill="#EBF0FA" stroke="#2b2b2b" stroke-width="1.1"/>
<circle cx="257.1" cy="422.0" r="2.3" fill="#E0305A"/>
<circle cx="262.7" cy="425.6" r="2.3" fill="#E0305A"/>
<circle cx="256.3" cy="429.6" r="2.3" fill="#1F7A36"/>
<circle cx="261.1" cy="432.2" r="2.3" fill="#E0305A"/>
<circle cx="279.0" cy="430.6" r="8.6" fill="#EBF0FA" stroke="#2b2b2b" stroke-width="1.1"/>
<circle cx="275.6" cy="427.0" r="2.3" fill="#DBA20C"/>
<circle cx="281.6" cy="427.0" r="2.3" fill="#DBA20C"/>
<circle cx="275.6" cy="433.0" r="2.3" fill="#DBA20C"/>
<circle cx="281.6" cy="434.1" r="2.3" fill="#1434A8"/>
<circle cx="244.4" cy="442.5" r="8.6" fill="#EBF0FA" stroke="#2b2b2b" stroke-width="1.1"/>
<circle cx="245.8" cy="436.9" r="2.3" fill="#E0305A"/>
<circle cx="240.8" cy="440.1" r="2.3" fill="#E0305A"/>
<circle cx="248.7" cy="442.5" r="2.3" fill="#E0305A"/>
<circle cx="239.8" cy="445.7" r="2.3" fill="#DBA20C"/>
<circle cx="246.2" cy="447.9" r="2.3" fill="#E0305A"/>
<circle cx="265.0" cy="448.9" r="8.6" fill="#EBF0FA" stroke="#2b2b2b" stroke-width="1.1"/>
<circle cx="261.3" cy="446.1" r="2.3" fill="#1434A8"/>
<circle cx="268.0" cy="446.9" r="2.3" fill="#1434A8"/>
<circle cx="262.1" cy="452.4" r="2.3" fill="#E0305A"/>
<circle cx="269.0" cy="452.8" r="2.3" fill="#1434A8"/>
<circle cx="342" cy="422.4" r="31.4" fill="#EBF0FA" stroke="#2b2b2b" stroke-width="1.2"/>
<circle cx="423.5" cy="422.8" r="31.4" fill="#EBF0FA" stroke="#2b2b2b" stroke-width="1.2"/>
<circle cx="337.8" cy="395.4" r="2.4" fill="#E0305A"/>
<circle cx="332.2" cy="399.1" r="2.4" fill="#DBA20C"/>
<circle cx="350.7" cy="398.3" r="2.4" fill="#1434A8"/>
<circle cx="327.8" cy="404.7" r="2.4" fill="#E0305A"/>
<circle cx="342.4" cy="404.3" r="2.4" fill="#1F7A36"/>
<circle cx="359.7" cy="403.1" r="2.4" fill="#DBA20C"/>
<circle cx="324.3" cy="409.1" r="2.4" fill="#1434A8"/>
<circle cx="334.8" cy="409.1" r="2.4" fill="#DBA20C"/>
<circle cx="341.4" cy="410.3" r="2.4" fill="#E0305A"/>
<circle cx="350.3" cy="406.3" r="2.4" fill="#E0305A"/>
<circle cx="317.3" cy="413.7" r="2.4" fill="#1F7A36"/>
<circle cx="335.0" cy="417.6" r="2.4" fill="#1F7A36"/>
<circle cx="344.1" cy="418.6" r="2.4" fill="#E0305A"/>
<circle cx="351.3" cy="416.2" r="2.4" fill="#1F7A36"/>
<circle cx="358.1" cy="415.6" r="2.4" fill="#1434A8"/>
<circle cx="324.3" cy="419.0" r="2.4" fill="#1434A8"/>
<circle cx="362.6" cy="422.6" r="2.4" fill="#DBA20C"/>
<circle cx="315.5" cy="427.0" r="2.4" fill="#DBA20C"/>
<circle cx="324.5" cy="426.2" r="2.4" fill="#1F7A36"/>
<circle cx="334.2" cy="427.6" r="2.4" fill="#DBA20C"/>
<circle cx="342.2" cy="428.2" r="2.4" fill="#E0305A"/>
<circle cx="354.3" cy="426.6" r="2.4" fill="#E0305A"/>
<circle cx="366.6" cy="430.0" r="2.4" fill="#DBA20C"/>
<circle cx="327.2" cy="433.1" r="2.4" fill="#E0305A"/>
<circle cx="339.8" cy="435.5" r="2.4" fill="#DBA20C"/>
<circle cx="350.3" cy="434.9" r="2.4" fill="#1434A8"/>
<circle cx="361.6" cy="437.1" r="2.4" fill="#DBA20C"/>
<circle cx="327.4" cy="443.9" r="2.4" fill="#E0305A"/>
<circle cx="337.4" cy="442.5" r="2.4" fill="#1434A8"/>
<circle cx="348.7" cy="441.9" r="2.4" fill="#1434A8"/>
<circle cx="343.1" cy="448.5" r="2.4" fill="#E0305A"/>
<circle cx="413.4" cy="401.3" r="2.4" fill="#DBA20C"/>
<circle cx="429.7" cy="400.1" r="2.4" fill="#E0305A"/>
<circle cx="422.1" cy="410.3" r="2.4" fill="#E0305A"/>
<circle cx="401.5" cy="418.6" r="2.4" fill="#1F7A36"/>
<circle cx="415.4" cy="419.0" r="2.4" fill="#1F7A36"/>
<circle cx="434.1" cy="418.6" r="2.4" fill="#1F7A36"/>
<circle cx="424.7" cy="428.2" r="2.4" fill="#DBA20C"/>
<circle cx="435.7" cy="429.0" r="2.4" fill="#E0305A"/>
<circle cx="448.0" cy="431.5" r="2.4" fill="#DBA20C"/>
<circle cx="408.8" cy="434.9" r="2.4" fill="#E0305A"/>
<circle cx="433.7" cy="441.9" r="2.4" fill="#1F7A36"/>
<path d="M425.3,365.7 L425.3,311.9 L177.5,311.9 L177.5,358" fill="none" stroke="#4a4a4a" stroke-width="2"/>
<polygon points="177.5,365.5 172.8,356.5 182.2,356.5" fill="#4a4a4a"/>
<line x1="214.3" y1="412.7" x2="218.7" y2="412.7" stroke="#555" stroke-width="1.2"/>
<polygon points="222.2,412.7 218.2,410.3 218.2,415.09999999999997" fill="#555"/>
<line x1="217" y1="418.2" x2="217" y2="467.4" stroke="#555" stroke-width="1.2"/>
<line x1="296" y1="412.7" x2="300.9" y2="412.7" stroke="#555" stroke-width="1.2"/>
<polygon points="304.4,412.7 300.4,410.3 300.4,415.09999999999997" fill="#555"/>
<line x1="299.9" y1="418.2" x2="299.9" y2="467.4" stroke="#555" stroke-width="1.2"/>
<line x1="378.5" y1="412.7" x2="383.0" y2="412.7" stroke="#555" stroke-width="1.2"/>
<polygon points="386.5,412.7 382.5,410.3 382.5,415.09999999999997" fill="#555"/>
<line x1="382.5" y1="418.2" x2="382.5" y2="467.4" stroke="#555" stroke-width="1.2"/>
<text x="213.5" y="327.5" font-family="Liberation Sans" font-size="14.8" fill="#1e1e1e" stroke="#1e1e1e" stroke-width="0.25" textLength="176.5" lengthAdjust="spacingAndGlyphs" style="" >(i) Compartmentalization</text>
<text x="157.5" y="488.2" font-family="Liberation Sans" font-size="14.0" fill="#1e1e1e" stroke="#1e1e1e" stroke-width="0.25" textLength="98.5" lengthAdjust="spacingAndGlyphs" style="" >(ii) Maturation</text>
<text x="265.2" y="488.2" font-family="Liberation Sans" font-size="14.0" fill="#1e1e1e" stroke="#1e1e1e" stroke-width="0.25" textLength="78.5" lengthAdjust="spacingAndGlyphs" style="" >(iii) Pooling</text>
<text x="351.6" y="488.2" font-family="Liberation Sans" font-size="14.0" fill="#1e1e1e" stroke="#1e1e1e" stroke-width="0.25" textLength="82" lengthAdjust="spacingAndGlyphs" style="" >(iv) Dilution</text>
<text x="88" y="499.3" font-family="Liberation Sans" font-size="25" fill="#111" stroke="#111" stroke-width="0.25" style="" >C</text>
<polyline points="91.83,398.07 92.21,398.58 92.58,399.16 92.97,399.78 93.35,400.42 93.74,401.03 94.11,401.59 94.48,402.08 94.84,402.47 95.19,402.74 95.53,402.88 95.85,402.89 96.15,402.75 96.44,402.49 96.72,402.11 96.99,401.63 97.26,401.07 97.51,400.46 97.77,399.83 98.02,399.21 98.28,398.63 98.55,398.11 98.82,397.68 99.11,397.35 99.41,397.16 99.72,397.10 100.05,397.18 100.39,397.39 100.74,397.72 101.11,398.17 101.48,398.70 101.86,399.29 102.25,399.92 102.63,400.54 103.02,401.15 103.39,401.70 103.76,402.17 104.12,402.53 104.46,402.78 104.79,402.89 105.11,402.87 105.41,402.71 105.70,402.42 105.98,402.02 106.25,401.52 106.51,400.95 106.77,400.33 107.02,399.70 107.28,399.09 107.54,398.51 107.80,398.01 108.08,397.60 108.37,397.30 108.67,397.14 108.99,397.11 109.32,397.21 109.66,397.45 110.02,397.81 110.39,398.27 110.76,398.82 111.14,399.42 111.53,400.05 111.91,400.67 112.29,401.27 112.67,401.80 113.03,402.25 113.39,402.59 113.73,402.81 114.06,402.90 114.37,402.85 114.67,402.66 114.96,402.35 115.24,401.92 115.50,401.41 115.76,400.83 116.02,400.20 116.27,399.57 116.53,398.96 116.79,398.40 117.06,397.91 117.34,397.53" fill="none" stroke="#D9A40E" stroke-width="1.7" stroke-linecap="round" stroke-linejoin="round"/>
<polyline points="92.33,411.87 92.71,412.38 93.08,412.96 93.47,413.58 93.85,414.22 94.24,414.83 94.61,415.39 94.98,415.88 95.34,416.27 95.69,416.54 96.03,416.68 96.35,416.69 96.65,416.55 96.94,416.29 97.22,415.91 97.49,415.43 97.76,414.87 98.01,414.26 98.27,413.63 98.52,413.01 98.78,412.43 99.05,411.91 99.32,411.48 99.61,411.15 99.91,410.96 100.22,410.90 100.55,410.98 100.89,411.19 101.24,411.52 101.61,411.97 101.98,412.50 102.36,413.09 102.75,413.72 103.13,414.34 103.52,414.95 103.89,415.50 104.26,415.97 104.62,416.33 104.96,416.58 105.29,416.69 105.61,416.67 105.91,416.51 106.20,416.22 106.48,415.82 106.75,415.32 107.01,414.75 107.27,414.13 107.52,413.50 107.78,412.89 108.04,412.31 108.30,411.81 108.58,411.40 108.87,411.10 109.17,410.94 109.49,410.91 109.82,411.01 110.16,411.25 110.52,411.61 110.89,412.07 111.26,412.62 111.64,413.22 112.03,413.85 112.41,414.47 112.79,415.07 113.17,415.60 113.53,416.05 113.89,416.39 114.23,416.61 114.56,416.70 114.87,416.65 115.17,416.46 115.46,416.15 115.74,415.72 116.00,415.21 116.26,414.63 116.52,414.00 116.77,413.37 117.03,412.76 117.29,412.20 117.56,411.71 117.84,411.33" fill="none" stroke="#DC2A52" stroke-width="1.7" stroke-linecap="round" stroke-linejoin="round"/>
<polyline points="103.70,425.95 103.88,426.19 104.05,426.44 104.23,426.71 104.41,426.98 104.59,427.26 104.77,427.55 104.95,427.83 105.12,428.11 105.30,428.39 105.48,428.66 105.66,428.92 105.83,429.16 106.01,429.39 106.18,429.60 106.35,429.79 106.51,429.95 106.68,430.09 106.84,430.21 107.00,430.30 107.15,430.36 107.30,430.39 107.45,430.40 107.60,430.37 107.74,430.32 107.88,430.24 108.02,430.13 108.15,429.99 108.29,429.83 108.42,429.65 108.54,429.45 108.67,429.23 108.79,428.99 108.91,428.73 109.03,428.47 109.15,428.19 109.27,427.91 109.39,427.63 109.51,427.34 109.63,427.06 109.75,426.78 109.87,426.52 109.99,426.26 110.11,426.02 110.23,425.79 110.36,425.58 110.49,425.40 110.62,425.23 110.76,425.09 110.89,424.98 111.03,424.89 111.17,424.83 111.32,424.80 111.47,424.80 111.62,424.83 111.78,424.89 111.93,424.97 112.09,425.08 112.26,425.22 112.42,425.38 112.59,425.57 112.76,425.77 112.94,426.00 113.11,426.24 113.29,426.49 113.46,426.76 113.64,427.04 113.82,427.32 114.00,427.60 114.18,427.89 114.36,428.17 114.54,428.44 114.72,428.71 114.89,428.96 115.07,429.21 115.24,429.43 115.41,429.64 115.58,429.82 115.75,429.98 115.91,430.12 116.07,430.23" fill="none" stroke="#1b3d26" stroke-width="1.7" stroke-linecap="round" stroke-linejoin="round"/>
<polyline points="103.70,439.21 103.88,439.44 104.05,439.68 104.23,439.94 104.41,440.20 104.59,440.47 104.77,440.75 104.95,441.02 105.12,441.29 105.30,441.56 105.48,441.82 105.66,442.07 105.83,442.30 106.01,442.52 106.18,442.73 106.35,442.91 106.51,443.07 106.68,443.21 106.84,443.32 107.00,443.40 107.15,443.46 107.30,443.49 107.45,443.50 107.60,443.47 107.74,443.42 107.88,443.34 108.02,443.24 108.15,443.11 108.29,442.95 108.42,442.78 108.54,442.58 108.67,442.37 108.79,442.14 108.91,441.89 109.03,441.63 109.15,441.37 109.27,441.10 109.39,440.82 109.51,440.55 109.63,440.28 109.75,440.01 109.87,439.75 109.99,439.51 110.11,439.27 110.23,439.06 110.36,438.86 110.49,438.68 110.62,438.52 110.76,438.38 110.89,438.27 111.03,438.19 111.17,438.13 111.32,438.10 111.47,438.10 111.62,438.13 111.78,438.18 111.93,438.27 112.09,438.37 112.26,438.51 112.42,438.66 112.59,438.84 112.76,439.04 112.94,439.26 113.11,439.49 113.29,439.73 113.46,439.99 113.64,440.26 113.82,440.53 114.00,440.80 114.18,441.08 114.36,441.35 114.54,441.61 114.72,441.87 114.89,442.12 115.07,442.35 115.24,442.57 115.41,442.76 115.58,442.94 115.75,443.10 115.91,443.23 116.07,443.34" fill="none" stroke="#0D2AA0" stroke-width="1.7" stroke-linecap="round" stroke-linejoin="round"/>
<rect x="120.9" y="398.0" width="6.8" height="1.6" fill="#222"/>
<rect x="120.9" y="401.4" width="6.8" height="1.6" fill="#222"/>
<circle cx="133.5" cy="399.7" r="2.7" fill="#DBA20C"/>
<rect x="120.9" y="412.7" width="6.8" height="1.6" fill="#222"/>
<rect x="120.9" y="415.9" width="6.8" height="1.6" fill="#222"/>
<circle cx="133.5" cy="414.9" r="2.7" fill="#E0305A"/>
<rect x="120.9" y="426.5" width="6.8" height="1.6" fill="#222"/>
<rect x="120.9" y="429.9" width="6.8" height="1.6" fill="#222"/>
<circle cx="133.5" cy="428.3" r="2.7" fill="#1F7A36"/>
<rect x="120.9" y="439.09999999999997" width="6.8" height="1.6" fill="#222"/>
<rect x="120.9" y="442.5" width="6.8" height="1.6" fill="#222"/>
<circle cx="133.5" cy="441.2" r="2.7" fill="#1434A8"/>
<line x1="510.60" y1="456" x2="510.60" y2="459.2" stroke="#262626" stroke-width="1"/>
<line x1="551.40" y1="456" x2="551.40" y2="459.2" stroke="#262626" stroke-width="1"/>
<line x1="592.20" y1="456" x2="592.20" y2="459.2" stroke="#262626" stroke-width="1"/>
<line x1="633.00" y1="456" x2="633.00" y2="459.2" stroke="#262626" stroke-width="1"/>
<line x1="673.80" y1="456" x2="673.80" y2="459.2" stroke="#262626" stroke-width="1"/>
<line x1="714.60" y1="456" x2="714.60" y2="459.2" stroke="#262626" stroke-width="1"/>
<line x1="507.40000000000003" y1="456.00" x2="510.6" y2="456.00" stroke="#262626" stroke-width="1"/>
<text x="506.6" y="458.90" font-family="Liberation Sans" font-size="8.2" fill="#222" stroke="#222" stroke-width="0.15" textLength="11.6" lengthAdjust="spacingAndGlyphs" text-anchor="end" style="" >0.0</text>
<line x1="507.40000000000003" y1="435.10" x2="510.6" y2="435.10" stroke="#262626" stroke-width="1"/>
<text x="506.6" y="438.00" font-family="Liberation Sans" font-size="8.2" fill="#222" stroke="#222" stroke-width="0.15" textLength="11.6" lengthAdjust="spacingAndGlyphs" text-anchor="end" style="" >0.5</text>
<line x1="507.40000000000003" y1="414.20" x2="510.6" y2="414.20" stroke="#262626" stroke-width="1"/>
<text x="506.6" y="417.10" font-family="Liberation Sans" font-size="8.2" fill="#222" stroke="#222" stroke-width="0.15" textLength="11.6" lengthAdjust="spacingAndGlyphs" text-anchor="end" style="" >1.0</text>
<line x1="507.40000000000003" y1="393.30" x2="510.6" y2="393.30" stroke="#262626" stroke-width="1"/>
<text x="506.6" y="396.20" font-family="Liberation Sans" font-size="8.2" fill="#222" stroke="#222" stroke-width="0.15" textLength="11.6" lengthAdjust="spacingAndGlyphs" text-anchor="end" style="" >1.5</text>
<line x1="507.40000000000003" y1="372.40" x2="510.6" y2="372.40" stroke="#262626" stroke-width="1"/>
<text x="506.6" y="375.30" font-family="Liberation Sans" font-size="8.2" fill="#222" stroke="#222" stroke-width="0.15" textLength="11.6" lengthAdjust="spacingAndGlyphs" text-anchor="end" style="" >2.0</text>
<line x1="507.40000000000003" y1="351.50" x2="510.6" y2="351.50" stroke="#262626" stroke-width="1"/>
<text x="506.6" y="354.40" font-family="Liberation Sans" font-size="8.2" fill="#222" stroke="#222" stroke-width="0.15" textLength="11.6" lengthAdjust="spacingAndGlyphs" text-anchor="end" style="" >2.5</text>
<line x1="507.40000000000003" y1="330.60" x2="510.6" y2="330.60" stroke="#262626" stroke-width="1"/>
<text x="506.6" y="333.50" font-family="Liberation Sans" font-size="8.2" fill="#222" stroke="#222" stroke-width="0.15" textLength="11.6" lengthAdjust="spacingAndGlyphs" text-anchor="end" style="" >3.0</text>
<line x1="507.40000000000003" y1="309.70" x2="510.6" y2="309.70" stroke="#262626" stroke-width="1"/>
<text x="506.6" y="312.60" font-family="Liberation Sans" font-size="8.2" fill="#222" stroke="#222" stroke-width="0.15" textLength="11.6" lengthAdjust="spacingAndGlyphs" text-anchor="end" style="" >3.5</text>
<line x1="507.40000000000003" y1="288.80" x2="510.6" y2="288.80" stroke="#262626" stroke-width="1"/>
<text x="506.6" y="291.70" font-family="Liberation Sans" font-size="8.2" fill="#222" stroke="#222" stroke-width="0.15" textLength="11.6" lengthAdjust="spacingAndGlyphs" text-anchor="end" style="" >4.0</text>
<line x1="724.70" y1="456" x2="724.70" y2="459.2" stroke="#262626" stroke-width="1"/>
<line x1="765.50" y1="456" x2="765.50" y2="459.2" stroke="#262626" stroke-width="1"/>
<line x1="806.30" y1="456" x2="806.30" y2="459.2" stroke="#262626" stroke-width="1"/>
<line x1="847.10" y1="456" x2="847.10" y2="459.2" stroke="#262626" stroke-width="1"/>
<line x1="887.90" y1="456" x2="887.90" y2="459.2" stroke="#262626" stroke-width="1"/>
<line x1="928.70" y1="456" x2="928.70" y2="459.2" stroke="#262626" stroke-width="1"/>
<text x="510.1" y="465.8" font-family="Liberation Sans" font-size="8.2" fill="#222" stroke="#222" stroke-width="0.15" textLength="11.6" lengthAdjust="spacingAndGlyphs" text-anchor="middle" style="" >0.0</text>
<text x="550.9" y="465.8" font-family="Liberation Sans" font-size="8.2" fill="#222" stroke="#222" stroke-width="0.15" textLength="11.6" lengthAdjust="spacingAndGlyphs" text-anchor="middle" style="" >0.2</text>
<text x="591.9" y="465.8" font-family="Liberation Sans" font-size="8.2" fill="#222" stroke="#222" stroke-width="0.15" textLength="11.6" lengthAdjust="spacingAndGlyphs" text-anchor="middle" style="" >0.4</text>
<text x="632.8" y="465.8" font-family="Liberation Sans" font-size="8.2" fill="#222" stroke="#222" stroke-width="0.15" textLength="11.6" lengthAdjust="spacingAndGlyphs" text-anchor="middle" style="" >0.6</text>
<text x="674.0" y="465.8" font-family="Liberation Sans" font-size="8.2" fill="#222" stroke="#222" stroke-width="0.15" textLength="11.6" lengthAdjust="spacingAndGlyphs" text-anchor="middle" style="" >0.8</text>
<text x="709.5" y="465.8" font-family="Liberation Sans" font-size="8.2" fill="#222" stroke="#222" stroke-width="0.15" textLength="11.6" lengthAdjust="spacingAndGlyphs" text-anchor="middle" style="" >1.0</text>
<text x="729.6" y="465.8" font-family="Liberation Sans" font-size="8.2" fill="#222" stroke="#222" stroke-width="0.15" textLength="11.6" lengthAdjust="spacingAndGlyphs" text-anchor="middle" style="" >0.0</text>
<text x="765.5" y="465.8" font-family="Liberation Sans" font-size="8.2" fill="#222" stroke="#222" stroke-width="0.15" textLength="11.6" lengthAdjust="spacingAndGlyphs" text-anchor="middle" style="" >0.2</text>
<text x="806.0" y="465.8" font-family="Liberation Sans" font-size="8.2" fill="#222" stroke="#222" stroke-width="0.15" textLength="11.6" lengthAdjust="spacingAndGlyphs" text-anchor="middle" style="" >0.4</text>
<text x="847.1" y="465.8" font-family="Liberation Sans" font-size="8.2" fill="#222" stroke="#222" stroke-width="0.15" textLength="11.6" lengthAdjust="spacingAndGlyphs" text-anchor="middle" style="" >0.6</text>
<text x="888.0" y="465.8" font-family="Liberation Sans" font-size="8.2" fill="#222" stroke="#222" stroke-width="0.15" textLength="11.6" lengthAdjust="spacingAndGlyphs" text-anchor="middle" style="" >0.8</text>
<text x="929.5" y="465.8" font-family="Liberation Sans" font-size="8.2" fill="#222" stroke="#222" stroke-width="0.15" textLength="11.6" lengthAdjust="spacingAndGlyphs" text-anchor="middle" style="" >1.0</text>
<text x="607.3" y="478.6" font-family="Liberation Sans" font-size="21" fill="#111" stroke="#111" stroke-width="0.25" style="font-style:italic" >x</text>
<text x="821.3" y="479.5" font-family="Liberation Sans" font-size="21" fill="#111" stroke="#111" stroke-width="0.25" style="font-style:italic" >x</text>
<text x="0" y="0" font-family="Liberation Sans" font-size="22.5" font-style="italic" fill="#111" transform="translate(492.6,377.6) rotate(-90)">λ</text>
<text x="492" y="498.6" font-family="Liberation Sans" font-size="25" fill="#111" stroke="#111" stroke-width="0.25" style="" >D</text>
<polyline points="531.00,414.20 574.30,442.00 659.60,443.90 697.10,434.60 705.40,414.90 705.00,388.40 699.80,367.00 691.30,368.20 656.50,373.20 627.20,366.60 633.40,358.40 663.50,354.80 687.00,357.00 697.50,365.00 706.00,357.00 710.50,351.50" fill="none" stroke="#FFC425" stroke-width="1.2" stroke-linejoin="round" stroke-linecap="round" opacity="1"/>
<circle cx="574.30" cy="442.00" r="1.7" fill="#FFBE0A"/>
<circle cx="659.60" cy="443.90" r="1.7" fill="#FFBE0A"/>
<circle cx="697.10" cy="434.60" r="1.7" fill="#FFBE0A"/>
<circle cx="705.40" cy="414.90" r="1.7" fill="#FFBE0A"/>
<circle cx="705.00" cy="388.40" r="1.7" fill="#FFBE0A"/>
<circle cx="699.80" cy="367.00" r="1.7" fill="#FFBE0A"/>
<circle cx="691.30" cy="368.20" r="1.7" fill="#FFBE0A"/>
<circle cx="656.50" cy="373.20" r="1.7" fill="#FFBE0A"/>
<circle cx="627.20" cy="366.60" r="1.7" fill="#FFBE0A"/>
<circle cx="633.40" cy="358.40" r="1.7" fill="#FFBE0A"/>
<circle cx="663.50" cy="354.80" r="1.7" fill="#FFBE0A"/>
<circle cx="687.00" cy="357.00" r="1.7" fill="#FFBE0A"/>
<circle cx="697.50" cy="365.00" r="1.7" fill="#FFBE0A"/>
<circle cx="706.00" cy="357.00" r="1.7" fill="#FFBE0A"/>
<circle cx="710.50" cy="351.50" r="1.7" fill="#FFBE0A"/>
<polyline points="642.12,371.99 642.45,372.40 642.94,372.94 643.55,373.61 644.21,374.36 644.87,375.18 645.47,376.03 645.96,376.92 646.28,377.81 646.39,378.70 646.37,379.59 646.25,380.47 646.04,381.34 645.76,382.19 645.43,382.99 645.07,383.74 644.67,384.43 644.20,385.07 643.65,385.64 643.05,386.12 642.44,386.56 641.83,386.95 641.25,387.33 640.71,387.71 640.22,388.11 639.71,388.55 639.19,389.00 638.68,389.43 638.19,389.86 637.74,390.29 637.33,390.72 636.98,391.15 636.70,391.59 636.49,392.04 636.34,392.53 636.23,393.08 636.14,393.68 636.06,394.30 635.97,394.95 635.85,395.61 635.66,396.25 635.45,396.83 635.24,397.40 635.02,397.96 634.77,398.53 634.49,399.08 634.18,399.64 633.82,400.18 633.42,400.71 632.98,401.21 632.51,401.70 632.00,402.18 631.46,402.65 630.89,403.10 630.28,403.53 629.64,403.93 628.98,404.30 628.30,404.65 627.62,404.98 626.91,405.29 626.16,405.57 625.35,405.84 624.49,406.08 623.55,406.30 622.53,406.49 621.40,406.66 620.16,406.83 618.82,406.98 617.44,407.10 616.02,407.19 614.62,407.24 613.25,407.25 611.95,407.20 610.71,407.10 609.47,406.95 608.25,406.76 607.06,406.53 605.90,406.26 604.78,405.95 603.71,405.61 602.71,405.24 601.74,404.84 600.81,404.38 599.93,403.89 599.09,403.36 598.31,402.80 597.59,402.22 596.95,401.63 596.38,401.01 595.90,400.36 595.52,399.67 595.22,398.97 595.01,398.26 594.86,397.56 594.76,396.85 594.71,396.17 594.70,395.49 594.73,394.81 594.80,394.12 594.93,393.43 595.11,392.74 595.34,392.06 595.62,391.38 595.94,390.72 596.32,390.07 596.76,389.43 597.25,388.80 597.79,388.17 598.37,387.55 599.00,386.95 599.65,386.38 600.34,385.84 601.06,385.33 601.80,384.87 602.58,384.44 603.38,384.04 604.22,383.66 605.08,383.32 605.96,383.00 606.86,382.70 607.78,382.43 608.74,382.18 609.72,381.96 610.72,381.77 611.75,381.60 612.78,381.45 613.83,381.32 614.88,381.20 615.93,381.10 616.99,381.01 618.08,380.93 619.19,380.86 620.31,380.81 621.43,380.78 622.54,380.78 623.62,380.82 624.67,380.90 625.70,381.02 626.71,381.16 627.72,381.32 628.71,381.53 629.68,381.77 630.61,382.06 631.51,382.39 632.36,382.79 633.17,383.24 633.93,383.75 634.64,384.31 635.30,384.91 635.92,385.54 636.50,386.19 637.05,386.86 637.55,387.54 638.03,388.25 638.48,389.00 638.89,389.78 639.26,390.58 639.59,391.39 639.87,392.21 640.11,393.03 640.29,393.85 640.42,394.66 640.51,395.49 640.55,396.32 640.54,397.16 640.48,398.00 640.37,398.83 640.20,399.65 639.96,400.46 639.64,401.26 639.24,402.04 638.78,402.80 638.28,403.54 637.75,404.25 637.20,404.94 636.65,405.60 636.10,406.22 635.58,406.83 635.06,407.43 634.51,408.02 633.94,408.60 633.32,409.16 632.64,409.69 631.88,410.18 631.04,410.62 630.13,411.01 629.16,411.34 628.14,411.63 627.07,411.89 625.97,412.11 624.84,412.32 623.69,412.51 622.52,412.69 621.32,412.87 620.07,413.05 618.78,413.22 617.45,413.37 616.10,413.49 614.73,413.58 613.35,413.61 611.98,413.60 610.60,413.54 609.21,413.45 607.79,413.33 606.37,413.16 604.94,412.95 603.53,412.68 602.13,412.35 600.76,411.96 599.40,411.50 598.01,410.97 596.63,410.38 595.27,409.74 593.96,409.05 592.71,408.33 591.55,407.59 590.51,406.83 589.56,406.03 588.71,405.17 587.95,404.28 587.26,403.37 586.66,402.46 586.13,401.55 585.67,400.67 585.27,399.82 584.93,399.00 584.67,398.19 584.49,397.39 584.37,396.60 584.32,395.81 584.34,395.02 584.40,394.21 584.51,393.38 584.67,392.50 584.88,391.58 585.16,390.63 585.48,389.68 585.86,388.73 586.30,387.79 586.79,386.89 587.35,386.04 587.96,385.24 588.63,384.46 589.36,383.71 590.14,383.00 590.96,382.32 591.81,381.67 592.69,381.07 593.59,380.51 594.51,380.00 595.46,379.54 596.43,379.12 597.43,378.74 598.46,378.38 599.53,378.05 600.64,377.74 601.80,377.43 603.03,377.12 604.31,376.83 605.65,376.56 607.02,376.31 608.43,376.07 609.85,375.86 611.28,375.67 612.71,375.50 614.16,375.36 615.65,375.23 617.16,375.12 618.69,375.03 620.21,374.97 621.72,374.94 623.20,374.95 624.64,375.00 626.04,375.10 627.42,375.23 628.77,375.40 630.11,375.60 631.42,375.83 632.70,376.10 633.97,376.40 635.22,376.73 636.45,377.10 637.67,377.52 638.86,377.97 640.03,378.45 641.16,378.95 642.27,379.46 643.33,379.98 644.36,380.49 645.36,380.99 646.34,381.51 647.29,382.04 648.21,382.58 649.10,383.14 649.95,383.70 650.75,384.29 651.51,384.88 652.21,385.49 652.87,386.11 653.48,386.74 654.05,387.38 654.58,388.04 655.06,388.72 655.50,389.41 655.91,390.13 656.27,390.88 656.58,391.65 656.85,392.44 657.08,393.24 657.26,394.05 657.41,394.85 657.52,395.65 657.60,396.43 657.65,397.21 657.66,397.99 657.64,398.76 657.58,399.53 657.49,400.31 657.36,401.10 657.18,401.90 656.97,402.71 656.73,403.54 656.47,404.39 656.16,405.26 655.82,406.15 655.42,407.05 654.97,407.94 654.44,408.82 653.84,409.68 653.18,410.51 652.47,411.34 651.70,412.17 650.87,412.99 649.97,413.79 649.01,414.56 647.99,415.29 646.91,415.99 645.76,416.64 644.52,417.26 643.23,417.86 641.88,418.42 640.49,418.94 639.07,419.43 637.64,419.88 636.20,420.27 634.75,420.62 633.25,420.93 631.74,421.19 630.20,421.41 628.66,421.59 627.12,421.75 625.58,421.88 624.05,422.00 622.54,422.09 621.02,422.14 619.51,422.17 618.00,422.17 616.48,422.15 614.96,422.11 613.42,422.06 611.87,422.00 610.28,421.93 608.65,421.86 606.99,421.77 605.33,421.67 603.67,421.54 602.03,421.39 600.43,421.21 598.88,420.99 597.39,420.75 595.92,420.49 594.48,420.21 593.07,419.90 591.69,419.55 590.33,419.16 589.00,418.73 587.70,418.24 586.43,417.71 585.19,417.12 583.97,416.49 582.78,415.82 581.63,415.11 580.53,414.37 579.48,413.61 578.49,412.81 577.55,412.00 576.65,411.14 575.80,410.26 574.99,409.34 574.24,408.40 573.54,407.42 572.89,406.41 572.30,405.38 571.76,404.30 571.27,403.19 570.83,402.04 570.45,400.87 570.13,399.68 569.86,398.48 569.65,397.28 569.50,396.08 569.41,394.87 569.37,393.65 569.38,392.40 569.45,391.15 569.59,389.90 569.80,388.66 570.08,387.44 570.44,386.24 570.89,385.07 571.42,383.92 572.03,382.79 572.70,381.68 573.43,380.59 574.21,379.52 575.04,378.49 575.90,377.47 576.81,376.47 577.78,375.50 578.81,374.54 579.88,373.61 580.99,372.70 582.15,371.81 583.34,370.96 584.56,370.13 585.82,369.34 587.11,368.58 588.43,367.85 589.80,367.14 591.20,366.46 592.65,365.78 594.15,365.12 595.69,364.46 597.31,363.80 599.00,363.14 600.76,362.48 602.55,361.84 604.36,361.22 606.19,360.62 608.00,360.06 609.78,359.53 611.55,359.05 613.31,358.60 615.07,358.19 616.83,357.81 618.59,357.45 620.35,357.10 622.10,356.76 623.85,356.41 625.60,356.08 627.36,355.75 629.11,355.44 630.87,355.14 632.62,354.85 634.37,354.57 636.12,354.29 637.88,354.01 639.61,353.74 641.33,353.47 643.04,353.22 644.76,352.96 646.49,352.72 648.25,352.48 650.05,352.24 651.90,352.01 653.83,351.77 655.82,351.54 657.86,351.32 659.93,351.10 661.99,350.88 664.03,350.68 666.01,350.49 667.93,350.30 669.78,350.13 671.60,349.97 673.38,349.82 675.14,349.67 676.85,349.54 678.53,349.41 680.16,349.30 681.75,349.20 683.29,349.11 684.77,349.04 686.21,348.98 687.61,348.93 688.98,348.89 690.33,348.86 691.66,348.83 692.98,348.80 694.31,348.77 695.65,348.74 696.98,348.72 698.29,348.70 699.56,348.69 700.79,348.71 701.96,348.74 703.06,348.80 704.09,348.89 705.09,349.01 706.03,349.15 706.92,349.30 707.74,349.47 708.50,349.66 709.18,349.85 709.79,350.05 710.35,350.31 710.81,350.63 711.17,350.99 711.43,351.34 711.61,351.66 711.73,351.92 711.80,352.06 711.86,352.15" fill="none" stroke="#2A8A3C" stroke-width="1.0" stroke-linejoin="round" stroke-linecap="round" opacity="1"/>
<polyline points="641.04,372.88 641.39,373.31 641.90,373.88 642.50,374.54 643.13,375.26 643.75,376.02 644.29,376.78 644.69,377.50 644.92,378.14 645.00,378.77 644.98,379.47 644.87,380.21 644.69,380.96 644.45,381.70 644.15,382.42 643.83,383.09 643.50,383.67 643.14,384.17 642.70,384.60 642.20,385.01 641.65,385.40 641.06,385.78 640.46,386.17 639.87,386.59 639.31,387.04 638.80,387.49 638.28,387.93 637.76,388.37 637.25,388.83 636.75,389.30 636.28,389.80 635.85,390.33 635.47,390.91 635.18,391.54 634.98,392.19 634.85,392.84 634.76,393.49 634.68,394.12 634.59,394.72 634.48,395.28 634.33,395.82 634.14,396.35 633.93,396.90 633.72,397.42 633.50,397.93 633.26,398.43 632.98,398.91 632.68,399.37 632.34,399.82 631.95,400.27 631.52,400.71 631.06,401.15 630.58,401.57 630.06,401.97 629.51,402.36 628.93,402.73 628.32,403.07 627.68,403.40 627.04,403.70 626.38,403.99 625.69,404.25 624.95,404.50 624.14,404.72 623.27,404.93 622.30,405.11 621.21,405.28 619.99,405.44 618.69,405.58 617.33,405.70 615.95,405.79 614.59,405.84 613.27,405.85 612.04,405.80 610.85,405.70 609.66,405.56 608.49,405.38 607.35,405.16 606.24,404.90 605.18,404.61 604.17,404.29 603.22,403.94 602.32,403.56 601.46,403.14 600.64,402.68 599.86,402.19 599.15,401.69 598.51,401.17 597.94,400.64 597.46,400.12 597.08,399.60 596.78,399.06 596.54,398.49 596.36,397.91 596.24,397.32 596.16,396.71 596.11,396.10 596.10,395.50 596.12,394.92 596.19,394.33 596.30,393.73 596.45,393.14 596.65,392.55 596.89,391.96 597.18,391.39 597.51,390.82 597.89,390.25 598.33,389.68 598.83,389.10 599.36,388.54 599.94,387.98 600.55,387.46 601.18,386.96 601.83,386.50 602.51,386.08 603.23,385.68 603.98,385.30 604.77,384.95 605.58,384.63 606.42,384.32 607.28,384.04 608.16,383.78 609.07,383.54 610.00,383.33 610.97,383.14 611.96,382.98 612.97,382.84 613.99,382.71 615.02,382.60 616.05,382.50 617.10,382.41 618.18,382.32 619.27,382.26 620.36,382.21 621.44,382.18 622.51,382.18 623.54,382.22 624.54,382.30 625.53,382.41 626.50,382.54 627.46,382.70 628.40,382.89 629.30,383.12 630.16,383.38 630.97,383.69 631.73,384.03 632.43,384.43 633.10,384.88 633.74,385.38 634.34,385.92 634.90,386.49 635.44,387.09 635.94,387.72 636.41,388.35 636.85,389.00 637.26,389.68 637.63,390.40 637.97,391.13 638.28,391.88 638.54,392.63 638.75,393.38 638.91,394.11 639.03,394.85 639.11,395.60 639.15,396.35 639.14,397.11 639.09,397.86 638.99,398.59 638.84,399.31 638.63,400.00 638.36,400.68 638.01,401.36 637.60,402.05 637.14,402.73 636.64,403.40 636.12,404.05 635.58,404.69 635.05,405.31 634.52,405.91 634.01,406.49 633.50,407.05 632.97,407.58 632.42,408.08 631.82,408.55 631.17,408.97 630.44,409.36 629.63,409.70 628.74,410.01 627.79,410.28 626.77,410.52 625.71,410.74 624.60,410.94 623.47,411.13 622.31,411.31 621.12,411.49 619.88,411.67 618.61,411.83 617.31,411.98 615.99,412.10 614.66,412.18 613.34,412.21 612.02,412.20 610.68,412.14 609.31,412.06 607.94,411.94 606.55,411.77 605.18,411.57 603.82,411.31 602.48,411.00 601.18,410.63 599.87,410.19 598.54,409.67 597.20,409.10 595.89,408.48 594.63,407.82 593.44,407.14 592.34,406.43 591.37,405.73 590.51,405.00 589.74,404.22 589.04,403.41 588.41,402.57 587.85,401.72 587.36,400.87 586.92,400.05 586.55,399.26 586.25,398.52 586.02,397.81 585.86,397.13 585.77,396.46 585.72,395.78 585.73,395.08 585.79,394.36 585.89,393.59 586.04,392.78 586.24,391.93 586.49,391.05 586.79,390.16 587.15,389.28 587.55,388.43 588.00,387.61 588.49,386.85 589.04,386.12 589.66,385.41 590.34,384.72 591.06,384.05 591.83,383.41 592.63,382.81 593.46,382.24 594.30,381.72 595.16,381.24 596.04,380.81 596.96,380.41 597.90,380.05 598.89,379.71 599.93,379.39 601.01,379.09 602.15,378.78 603.35,378.48 604.61,378.20 605.92,377.93 607.27,377.68 608.65,377.45 610.05,377.24 611.46,377.06 612.86,376.90 614.29,376.75 615.76,376.62 617.25,376.51 618.75,376.42 620.25,376.36 621.73,376.34 623.17,376.35 624.57,376.40 625.93,376.49 627.27,376.62 628.58,376.78 629.88,376.98 631.15,377.21 632.40,377.47 633.63,377.76 634.84,378.08 636.02,378.43 637.19,378.83 638.34,379.27 639.48,379.74 640.59,380.23 641.67,380.73 642.72,381.23 643.73,381.74 644.71,382.24 645.67,382.74 646.60,383.26 647.49,383.78 648.34,384.31 649.15,384.85 649.91,385.40 650.62,385.96 651.28,386.53 651.89,387.11 652.45,387.69 652.98,388.28 653.46,388.88 653.90,389.50 654.30,390.13 654.67,390.78 654.99,391.45 655.27,392.14 655.51,392.85 655.72,393.59 655.89,394.33 656.02,395.07 656.13,395.82 656.20,396.55 656.25,397.27 656.26,397.98 656.24,398.69 656.19,399.40 656.10,400.11 655.98,400.84 655.82,401.58 655.62,402.34 655.39,403.13 655.14,403.95 654.85,404.78 654.53,405.61 654.16,406.44 653.74,407.26 653.26,408.06 652.72,408.84 652.10,409.62 651.43,410.41 650.70,411.20 649.91,411.97 649.07,412.72 648.17,413.45 647.21,414.14 646.19,414.79 645.10,415.40 643.92,416.00 642.67,416.57 641.36,417.12 640.01,417.63 638.63,418.10 637.24,418.53 635.85,418.92 634.44,419.26 633.00,419.55 631.52,419.80 630.02,420.02 628.51,420.20 626.99,420.36 625.47,420.49 623.96,420.60 622.47,420.69 620.98,420.74 619.50,420.77 618.01,420.77 616.51,420.75 615.00,420.71 613.47,420.66 611.92,420.60 610.34,420.54 608.72,420.46 607.07,420.37 605.42,420.27 603.78,420.15 602.17,420.00 600.60,419.82 599.09,419.61 597.62,419.37 596.18,419.12 594.77,418.84 593.39,418.53 592.05,418.20 590.74,417.82 589.46,417.41 588.22,416.94 587.00,416.43 585.80,415.86 584.63,415.26 583.49,414.61 582.39,413.94 581.34,413.23 580.33,412.49 579.38,411.74 578.49,410.96 577.63,410.15 576.83,409.31 576.07,408.45 575.35,407.55 574.69,406.63 574.08,405.69 573.53,404.72 573.02,403.71 572.56,402.66 572.15,401.58 571.79,400.47 571.49,399.35 571.23,398.21 571.04,397.07 570.90,395.94 570.81,394.80 570.77,393.63 570.78,392.45 570.85,391.27 570.98,390.09 571.17,388.93 571.43,387.80 571.77,386.70 572.18,385.61 572.68,384.54 573.25,383.48 573.88,382.43 574.58,381.39 575.32,380.37 576.12,379.37 576.95,378.40 577.83,377.44 578.76,376.50 579.75,375.58 580.78,374.68 581.86,373.80 582.98,372.94 584.14,372.11 585.33,371.30 586.55,370.53 587.80,369.79 589.09,369.08 590.43,368.39 591.80,367.72 593.23,367.06 594.70,366.41 596.23,365.75 597.83,365.10 599.50,364.44 601.24,363.80 603.01,363.16 604.81,362.54 606.61,361.95 608.40,361.40 610.16,360.88 611.90,360.40 613.64,359.97 615.38,359.56 617.12,359.18 618.87,358.82 620.62,358.47 622.37,358.13 624.11,357.79 625.86,357.45 627.61,357.13 629.35,356.82 631.10,356.52 632.85,356.23 634.60,355.95 636.34,355.67 638.09,355.39 639.83,355.12 641.54,354.86 643.25,354.60 644.96,354.35 646.69,354.10 648.44,353.86 650.23,353.63 652.07,353.40 653.99,353.16 655.98,352.94 658.02,352.71 660.08,352.49 662.13,352.28 664.17,352.07 666.15,351.88 668.06,351.70 669.90,351.53 671.72,351.36 673.50,351.21 675.25,351.07 676.96,350.93 678.63,350.81 680.25,350.70 681.84,350.60 683.36,350.51 684.84,350.44 686.27,350.38 687.66,350.33 689.02,350.29 690.36,350.26 691.69,350.23 693.01,350.20 694.34,350.17 695.68,350.14 697.00,350.12 698.30,350.10 699.56,350.09 700.76,350.11 701.90,350.14 702.96,350.20 703.95,350.29 704.91,350.40 705.81,350.53 706.66,350.68 707.44,350.84 708.14,351.01 708.76,351.19 709.28,351.36 709.66,351.53 709.92,351.71 710.11,351.90 710.25,352.10 710.36,352.30 710.47,352.52 710.58,352.75 710.71,352.94" fill="none" stroke="#FFC425" stroke-width="1.0" stroke-linejoin="round" stroke-linecap="round" opacity="1"/>
<polyline points="641.50,372.50 641.85,372.92 642.35,373.48 642.95,374.14 643.59,374.88 644.23,375.66 644.79,376.46 645.24,377.25 645.50,378.00 645.59,378.74 645.58,379.52 645.46,380.32 645.27,381.12 645.01,381.91 644.70,382.66 644.36,383.37 644.00,384.00 643.59,384.56 643.11,385.05 642.57,385.49 641.99,385.89 641.39,386.28 640.80,386.67 640.23,387.07 639.70,387.50 639.19,387.95 638.67,388.39 638.15,388.82 637.65,389.27 637.17,389.72 636.73,390.19 636.33,390.68 636.00,391.20 635.74,391.75 635.57,392.34 635.44,392.95 635.35,393.57 635.27,394.20 635.18,394.82 635.07,395.42 634.90,396.00 634.70,396.56 634.49,397.11 634.28,397.65 634.04,398.19 633.79,398.71 633.50,399.22 633.17,399.72 632.80,400.20 632.39,400.67 631.94,401.14 631.47,401.59 630.96,402.03 630.41,402.46 629.84,402.86 629.24,403.24 628.60,403.60 627.95,403.93 627.29,404.25 626.61,404.54 625.89,404.82 625.12,405.07 624.29,405.30 623.39,405.51 622.40,405.70 621.29,405.87 620.06,406.03 618.75,406.18 617.38,406.30 615.98,406.39 614.60,406.44 613.26,406.45 612.00,406.40 610.79,406.30 609.58,406.16 608.39,405.97 607.23,405.74 606.09,405.48 605.01,405.18 603.97,404.86 603.00,404.50 602.08,404.11 601.18,403.67 600.33,403.20 599.53,402.69 598.79,402.17 598.11,401.62 597.51,401.06 597.00,400.50 596.58,399.92 596.24,399.32 595.98,398.70 595.78,398.06 595.65,397.42 595.56,396.77 595.51,396.13 595.50,395.50 595.52,394.87 595.59,394.24 595.71,393.60 595.88,392.97 596.09,392.34 596.34,391.71 596.65,391.10 597.00,390.50 597.41,389.90 597.87,389.30 598.38,388.70 598.94,388.11 599.53,387.54 600.16,386.99 600.82,386.48 601.50,386.00 602.21,385.56 602.95,385.15 603.73,384.76 604.53,384.40 605.36,384.07 606.22,383.75 607.10,383.47 608.00,383.20 608.92,382.96 609.88,382.74 610.86,382.55 611.87,382.39 612.89,382.24 613.92,382.11 614.96,382.00 616.00,381.90 617.05,381.81 618.14,381.73 619.23,381.66 620.34,381.61 621.44,381.58 622.52,381.58 623.58,381.62 624.60,381.70 625.60,381.81 626.59,381.95 627.57,382.11 628.53,382.31 629.46,382.54 630.35,382.81 631.20,383.13 632.00,383.50 632.75,383.92 633.45,384.40 634.12,384.92 634.75,385.49 635.34,386.08 635.90,386.71 636.41,387.35 636.90,388.00 637.35,388.68 637.78,389.39 638.17,390.13 638.52,390.89 638.84,391.67 639.11,392.45 639.33,393.23 639.50,394.00 639.62,394.77 639.71,395.55 639.75,396.34 639.74,397.13 639.69,397.92 639.58,398.69 639.42,399.46 639.20,400.20 638.91,400.93 638.54,401.65 638.11,402.37 637.63,403.07 637.12,403.76 636.58,404.43 636.04,405.08 635.50,405.70 634.98,406.30 634.46,406.89 633.93,407.47 633.39,408.02 632.80,408.54 632.17,409.04 631.48,409.49 630.70,409.90 629.84,410.26 628.92,410.58 627.94,410.86 626.90,411.11 625.82,411.33 624.70,411.53 623.56,411.72 622.40,411.90 621.20,412.08 619.96,412.26 618.68,412.43 617.37,412.57 616.04,412.69 614.69,412.78 613.34,412.81 612.00,412.80 610.65,412.74 609.27,412.66 607.87,412.53 606.48,412.37 605.08,412.16 603.69,411.90 602.33,411.58 601.00,411.20 599.67,410.75 598.31,410.23 596.96,409.65 595.62,409.02 594.34,408.35 593.12,407.65 592.00,406.93 591.00,406.20 590.11,405.44 589.30,404.63 588.57,403.78 587.92,402.91 587.34,402.04 586.83,401.17 586.39,400.32 586.00,399.50 585.68,398.72 585.44,397.97 585.27,397.24 585.17,396.52 585.12,395.79 585.14,395.05 585.20,394.29 585.30,393.50 585.45,392.66 585.66,391.78 585.92,390.87 586.23,389.96 586.60,389.04 587.01,388.15 587.48,387.30 588.00,386.50 588.58,385.74 589.22,385.00 589.92,384.29 590.67,383.60 591.46,382.94 592.28,382.32 593.13,381.74 594.00,381.20 594.89,380.71 595.79,380.26 596.73,379.86 597.70,379.49 598.71,379.14 599.76,378.82 600.85,378.51 602.00,378.20 603.21,377.90 604.48,377.61 605.80,377.35 607.16,377.09 608.55,376.86 609.96,376.65 611.38,376.46 612.80,376.30 614.24,376.16 615.71,376.03 617.21,375.91 618.73,375.83 620.23,375.76 621.73,375.74 623.19,375.75 624.60,375.80 625.98,375.89 627.33,376.02 628.66,376.19 629.98,376.39 631.26,376.62 632.53,376.88 633.78,377.18 635.00,377.50 636.21,377.86 637.40,378.27 638.57,378.71 639.71,379.19 640.83,379.68 641.92,380.19 642.98,380.70 644.00,381.20 644.99,381.70 645.96,382.22 646.89,382.74 647.80,383.27 648.67,383.81 649.49,384.36 650.27,384.92 651.00,385.50 651.68,386.08 652.31,386.68 652.89,387.28 653.44,387.89 653.94,388.52 654.40,389.16 654.82,389.82 655.20,390.50 655.54,391.20 655.83,391.93 656.09,392.68 656.30,393.44 656.48,394.21 656.62,394.98 656.72,395.74 656.80,396.50 656.85,397.25 656.86,397.98 656.84,398.72 656.79,399.46 656.70,400.20 656.57,400.95 656.40,401.72 656.20,402.50 655.97,403.31 655.71,404.14 655.41,404.99 655.08,405.84 654.70,406.70 654.27,407.55 653.77,408.39 653.20,409.20 652.57,410.00 651.87,410.81 651.13,411.61 650.32,412.41 649.45,413.18 648.53,413.92 647.54,414.63 646.50,415.30 645.38,415.93 644.18,416.54 642.91,417.12 641.58,417.68 640.21,418.19 638.82,418.67 637.41,419.11 636.00,419.50 634.57,419.84 633.11,420.14 631.61,420.40 630.10,420.61 628.57,420.80 627.04,420.95 625.52,421.09 624.00,421.20 622.50,421.29 621.00,421.34 619.50,421.37 618.01,421.37 616.50,421.35 614.98,421.31 613.45,421.26 611.90,421.20 610.31,421.13 608.69,421.06 607.04,420.97 605.38,420.87 603.73,420.74 602.11,420.59 600.53,420.41 599.00,420.20 597.52,419.96 596.07,419.71 594.65,419.43 593.26,419.12 591.90,418.78 590.56,418.40 589.27,417.97 588.00,417.50 586.76,416.97 585.54,416.40 584.35,415.79 583.19,415.13 582.07,414.44 580.99,413.72 579.97,412.97 579.00,412.20 578.08,411.40 577.21,410.58 576.39,409.72 575.61,408.83 574.88,407.92 574.20,406.97 573.57,406.00 573.00,405.00 572.48,403.96 572.01,402.89 571.59,401.78 571.22,400.64 570.90,399.49 570.64,398.33 570.44,397.16 570.30,396.00 570.21,394.83 570.17,393.64 570.18,392.43 570.25,391.22 570.38,390.01 570.58,388.82 570.85,387.64 571.20,386.50 571.63,385.38 572.14,384.27 572.72,383.18 573.38,382.11 574.08,381.05 574.85,380.01 575.65,378.99 576.50,378.00 577.39,377.03 578.34,376.07 579.34,375.13 580.39,374.22 581.49,373.33 582.62,372.46 583.80,371.61 585.00,370.80 586.23,370.02 587.50,369.27 588.81,368.55 590.16,367.86 591.55,367.18 592.98,366.51 594.46,365.86 596.00,365.20 597.61,364.54 599.29,363.88 601.03,363.23 602.81,362.59 604.62,361.97 606.43,361.38 608.23,360.82 610.00,360.30 611.75,359.82 613.50,359.38 615.25,358.97 617.00,358.59 618.75,358.23 620.50,357.88 622.25,357.54 624.00,357.20 625.75,356.86 627.50,356.54 629.25,356.23 631.00,355.93 632.75,355.64 634.50,355.36 636.25,355.08 638.00,354.80 639.74,354.53 641.45,354.26 643.16,354.01 644.88,353.76 646.60,353.51 648.36,353.27 650.15,353.03 652.00,352.80 653.92,352.57 655.91,352.34 657.95,352.11 660.01,351.89 662.07,351.68 664.11,351.48 666.09,351.28 668.00,351.10 669.85,350.93 671.67,350.77 673.45,350.61 675.20,350.47 676.91,350.33 678.58,350.21 680.21,350.10 681.80,350.00 683.33,349.91 684.81,349.84 686.24,349.78 687.64,349.73 689.00,349.69 690.35,349.66 691.68,349.63 693.00,349.60 694.33,349.57 695.67,349.54 696.99,349.52 698.29,349.50 699.56,349.49 700.77,349.51 701.93,349.54 703.00,349.60 704.01,349.69 704.98,349.80 705.90,349.94 706.77,350.09 707.57,350.25 708.29,350.43 708.94,350.61 709.50,350.80 709.95,351.01 710.30,351.25 710.56,351.51 710.76,351.77 710.90,352.03 711.01,352.26 711.10,352.46 711.20,352.60" fill="none" stroke="#2540C0" stroke-width="1.1" stroke-linejoin="round" stroke-linecap="round" opacity="1"/>
<polyline points="694.20,414.20 694.30,389.50 685.30,369.30 664.50,360.50 631.10,360.30 597.50,368.90 582.80,385.70 586.50,388.80 601.60,401.70 621.50,403.50 645.20,404.20 680.30,392.30 697.50,374.40 706.90,360.30 710.80,352.00" fill="none" stroke="#2540C0" stroke-width="1.2" stroke-linejoin="round" stroke-linecap="round" opacity="1"/>
<circle cx="694.30" cy="389.50" r="1.8" fill="#0C1E9A"/>
<circle cx="685.30" cy="369.30" r="1.8" fill="#0C1E9A"/>
<circle cx="664.50" cy="360.50" r="1.8" fill="#0C1E9A"/>
<circle cx="631.10" cy="360.30" r="1.8" fill="#0C1E9A"/>
<circle cx="597.50" cy="368.90" r="1.8" fill="#0C1E9A"/>
<circle cx="582.80" cy="385.70" r="1.8" fill="#0C1E9A"/>
<circle cx="586.50" cy="388.80" r="1.8" fill="#0C1E9A"/>
<circle cx="601.60" cy="401.70" r="1.8" fill="#0C1E9A"/>
<circle cx="621.50" cy="403.50" r="1.8" fill="#0C1E9A"/>
<circle cx="645.20" cy="404.20" r="1.8" fill="#0C1E9A"/>
<circle cx="680.30" cy="392.30" r="1.8" fill="#0C1E9A"/>
<circle cx="697.50" cy="374.40" r="1.8" fill="#0C1E9A"/>
<circle cx="706.90" cy="360.30" r="1.8" fill="#0C1E9A"/>
<circle cx="710.80" cy="352.00" r="1.8" fill="#0C1E9A"/>
<polyline points="710.20,353.00 706.90,357.20 680.30,379.80 656.90,391.90 628.10,397.60 607.30,394.80 603.80,388.60" fill="none" stroke="#2A8A3C" stroke-width="1.2" stroke-linejoin="round" stroke-linecap="round" opacity="1"/>
<circle cx="710.20" cy="353.00" r="1.8" fill="#10692A"/>
<circle cx="706.90" cy="357.20" r="1.8" fill="#10692A"/>
<circle cx="680.30" cy="379.80" r="1.8" fill="#10692A"/>
<circle cx="656.90" cy="391.90" r="1.8" fill="#10692A"/>
<circle cx="628.10" cy="397.60" r="1.8" fill="#10692A"/>
<circle cx="607.30" cy="394.80" r="1.8" fill="#10692A"/>
<circle cx="603.80" cy="388.60" r="1.8" fill="#10692A"/>
<polyline points="641.50,372.50 641.85,372.92 642.35,373.48 642.95,374.14 643.59,374.88 644.23,375.66 644.79,376.46 645.24,377.25 645.50,378.00 645.59,378.74 645.58,379.52 645.46,380.32 645.27,381.12 645.01,381.91 644.70,382.66 644.36,383.37 644.00,384.00 643.59,384.56 643.11,385.05 642.57,385.49 641.99,385.89 641.39,386.28 640.80,386.67 640.23,387.07 639.70,387.50 639.19,387.95 638.67,388.39 638.15,388.82 637.65,389.27 637.17,389.72 636.73,390.19 636.33,390.68 636.00,391.20 635.74,391.75 635.57,392.34 635.44,392.95 635.35,393.57 635.27,394.20 635.18,394.82 635.07,395.42 634.90,396.00 634.70,396.56 634.49,397.11 634.28,397.65 634.04,398.19 633.79,398.71 633.50,399.22 633.17,399.72 632.80,400.20 632.39,400.67 631.94,401.14 631.47,401.59 630.96,402.03 630.41,402.46 629.84,402.86 629.24,403.24 628.60,403.60 627.95,403.93 627.29,404.25 626.61,404.54 625.89,404.82 625.12,405.07 624.29,405.30 623.39,405.51 622.40,405.70 621.29,405.87 620.06,406.03 618.75,406.18 617.38,406.30 615.98,406.39 614.60,406.44 613.26,406.45 612.00,406.40 610.79,406.30 609.58,406.16 608.39,405.97 607.23,405.74 606.09,405.48 605.01,405.18 603.97,404.86 603.00,404.50 602.08,404.11 601.18,403.67 600.33,403.20 599.53,402.69 598.79,402.17 598.11,401.62 597.51,401.06 597.00,400.50 596.58,399.92 596.24,399.32 595.98,398.70 595.78,398.06 595.65,397.42 595.56,396.77 595.51,396.13 595.50,395.50 595.52,394.87 595.59,394.24 595.71,393.60 595.88,392.97 596.09,392.34 596.34,391.71 596.65,391.10 597.00,390.50 597.41,389.90 597.87,389.30 598.38,388.70 598.94,388.11 599.53,387.54 600.16,386.99 600.82,386.48 601.50,386.00 602.21,385.56 602.95,385.15 603.73,384.76 604.53,384.40 605.36,384.07 606.22,383.75 607.10,383.47 608.00,383.20 608.92,382.96 609.88,382.74 610.86,382.55 611.87,382.39 612.89,382.24 613.92,382.11 614.96,382.00 616.00,381.90 617.05,381.81 618.14,381.73 619.23,381.66 620.34,381.61 621.44,381.58 622.52,381.58 623.58,381.62 624.60,381.70 625.60,381.81 626.59,381.95 627.57,382.11 628.53,382.31 629.46,382.54 630.35,382.81 631.20,383.13 632.00,383.50 632.75,383.92 633.45,384.40 634.12,384.92 634.75,385.49 635.34,386.08 635.90,386.71 636.41,387.35 636.90,388.00 637.35,388.68 637.78,389.39 638.17,390.13 638.52,390.89 638.84,391.67 639.11,392.45 639.33,393.23 639.50,394.00 639.62,394.77 639.71,395.55 639.75,396.34 639.74,397.13 639.69,397.92 639.58,398.69 639.42,399.46 639.20,400.20 638.91,400.93 638.54,401.65 638.11,402.37 637.63,403.07 637.12,403.76 636.58,404.43 636.04,405.08 635.50,405.70 634.98,406.30 634.46,406.89 633.93,407.47 633.39,408.02 632.80,408.54 632.17,409.04 631.48,409.49 630.70,409.90 629.84,410.26 628.92,410.58 627.94,410.86 626.90,411.11 625.82,411.33 624.70,411.53 623.56,411.72 622.40,411.90 621.20,412.08 619.96,412.26 618.68,412.43 617.37,412.57 616.04,412.69 614.69,412.78 613.34,412.81 612.00,412.80 610.65,412.74 609.27,412.66 607.87,412.53 606.48,412.37 605.08,412.16 603.69,411.90 602.33,411.58 601.00,411.20 599.67,410.75 598.31,410.23 596.96,409.65 595.62,409.02 594.34,408.35 593.12,407.65 592.00,406.93 591.00,406.20 590.11,405.44 589.30,404.63 588.57,403.78 587.92,402.91 587.34,402.04 586.83,401.17 586.39,400.32 586.00,399.50 585.68,398.72 585.44,397.97 585.27,397.24 585.17,396.52 585.12,395.79 585.14,395.05 585.20,394.29 585.30,393.50 585.45,392.66 585.66,391.78 585.92,390.87 586.23,389.96 586.60,389.04 587.01,388.15 587.48,387.30 588.00,386.50 588.58,385.74 589.22,385.00 589.92,384.29 590.67,383.60 591.46,382.94 592.28,382.32 593.13,381.74 594.00,381.20 594.89,380.71 595.79,380.26 596.73,379.86 597.70,379.49 598.71,379.14 599.76,378.82 600.85,378.51 602.00,378.20 603.21,377.90 604.48,377.61 605.80,377.35 607.16,377.09 608.55,376.86 609.96,376.65 611.38,376.46 612.80,376.30 614.24,376.16 615.71,376.03 617.21,375.91 618.73,375.83 620.23,375.76 621.73,375.74 623.19,375.75 624.60,375.80 625.98,375.89 627.33,376.02 628.66,376.19 629.98,376.39 631.26,376.62 632.53,376.88 633.78,377.18 635.00,377.50 636.21,377.86 637.40,378.27 638.57,378.71 639.71,379.19 640.83,379.68 641.92,380.19 642.98,380.70 644.00,381.20 644.99,381.70 645.96,382.22 646.89,382.74 647.80,383.27 648.67,383.81 649.49,384.36 650.27,384.92 651.00,385.50 651.68,386.08 652.31,386.68 652.89,387.28 653.44,387.89 653.94,388.52 654.40,389.16 654.82,389.82 655.20,390.50 655.54,391.20 655.83,391.93 656.09,392.68 656.30,393.44 656.48,394.21 656.62,394.98 656.72,395.74 656.80,396.50 656.85,397.25 656.86,397.98 656.84,398.72 656.79,399.46 656.70,400.20 656.57,400.95 656.40,401.72 656.20,402.50 655.97,403.31 655.71,404.14 655.41,404.99 655.08,405.84 654.70,406.70 654.27,407.55 653.77,408.39 653.20,409.20 652.57,410.00 651.87,410.81 651.13,411.61 650.32,412.41 649.45,413.18 648.53,413.92 647.54,414.63 646.50,415.30 645.38,415.93 644.18,416.54 642.91,417.12 641.58,417.68 640.21,418.19 638.82,418.67 637.41,419.11 636.00,419.50 634.57,419.84 633.11,420.14 631.61,420.40 630.10,420.61 628.57,420.80 627.04,420.95 625.52,421.09 624.00,421.20 622.50,421.29 621.00,421.34 619.50,421.37 618.01,421.37 616.50,421.35 614.98,421.31 613.45,421.26 611.90,421.20 610.31,421.13 608.69,421.06 607.04,420.97 605.38,420.87 603.73,420.74 602.11,420.59 600.53,420.41 599.00,420.20 597.52,419.96 596.07,419.71 594.65,419.43 593.26,419.12 591.90,418.78 590.56,418.40 589.27,417.97 588.00,417.50 586.76,416.97 585.54,416.40 584.35,415.79 583.19,415.13 582.07,414.44 580.99,413.72 579.97,412.97 579.00,412.20 578.08,411.40 577.21,410.58 576.39,409.72 575.61,408.83 574.88,407.92 574.20,406.97 573.57,406.00 573.00,405.00 572.48,403.96 572.01,402.89 571.59,401.78 571.22,400.64 570.90,399.49 570.64,398.33 570.44,397.16 570.30,396.00 570.21,394.83 570.17,393.64 570.18,392.43 570.25,391.22 570.38,390.01 570.58,388.82 570.85,387.64 571.20,386.50 571.63,385.38 572.14,384.27 572.72,383.18 573.38,382.11 574.08,381.05 574.85,380.01 575.65,378.99 576.50,378.00 577.39,377.03 578.34,376.07 579.34,375.13 580.39,374.22 581.49,373.33 582.62,372.46 583.80,371.61 585.00,370.80 586.23,370.02 587.50,369.27 588.81,368.55 590.16,367.86 591.55,367.18 592.98,366.51 594.46,365.86 596.00,365.20 597.61,364.54 599.29,363.88 601.03,363.23 602.81,362.59 604.62,361.97 606.43,361.38 608.23,360.82 610.00,360.30 611.75,359.82 613.50,359.38 615.25,358.97 617.00,358.59 618.75,358.23 620.50,357.88 622.25,357.54 624.00,357.20 625.75,356.86 627.50,356.54 629.25,356.23 631.00,355.93 632.75,355.64 634.50,355.36 636.25,355.08 638.00,354.80 639.74,354.53 641.45,354.26 643.16,354.01 644.88,353.76 646.60,353.51 648.36,353.27 650.15,353.03 652.00,352.80 653.92,352.57 655.91,352.34 657.95,352.11 660.01,351.89 662.07,351.68 664.11,351.48 666.09,351.28 668.00,351.10 669.85,350.93 671.67,350.77 673.45,350.61 675.20,350.47 676.91,350.33 678.58,350.21 680.21,350.10 681.80,350.00 683.33,349.91 684.81,349.84 686.24,349.78 687.64,349.73 689.00,349.69 690.35,349.66 691.68,349.63 693.00,349.60 694.33,349.57 695.67,349.54 696.99,349.52 698.29,349.50 699.56,349.49 700.77,349.51 701.93,349.54 703.00,349.60 704.01,349.69 704.98,349.80 705.90,349.94 706.77,350.09 707.57,350.25 708.29,350.43 708.94,350.61 709.50,350.80 709.95,351.01 710.30,351.25 710.56,351.51 710.76,351.77 710.90,352.03 711.01,352.26 711.10,352.46 711.20,352.60" fill="none" stroke="#111111" stroke-width="1.3" stroke-linejoin="round" stroke-linecap="round" opacity="1"/>
<circle cx="644.98" cy="375.16" r="1.9" fill="#10692A"/>
<circle cx="636.21" cy="393.96" r="1.9" fill="#10692A"/>
<circle cx="631.86" cy="402.44" r="1.9" fill="#10692A"/>
<circle cx="624.10" cy="406.27" r="1.9" fill="#10692A"/>
<circle cx="615.10" cy="407.32" r="1.9" fill="#10692A"/>
<circle cx="601.11" cy="404.64" r="1.9" fill="#10692A"/>
<circle cx="596.43" cy="389.74" r="1.9" fill="#10692A"/>
<circle cx="609.96" cy="381.81" r="1.9" fill="#10692A"/>
<circle cx="620.03" cy="380.72" r="1.9" fill="#10692A"/>
<circle cx="629.33" cy="381.58" r="1.9" fill="#10692A"/>
<circle cx="638.21" cy="388.36" r="1.9" fill="#10692A"/>
<circle cx="639.92" cy="400.83" r="1.9" fill="#10692A"/>
<circle cx="631.40" cy="410.54" r="1.9" fill="#10692A"/>
<circle cx="619.02" cy="413.29" r="1.9" fill="#10692A"/>
<circle cx="603.06" cy="412.67" r="1.9" fill="#10692A"/>
<circle cx="584.90" cy="399.18" r="1.9" fill="#10692A"/>
<circle cx="595.53" cy="379.39" r="1.9" fill="#10692A"/>
<circle cx="613.39" cy="375.34" r="1.9" fill="#10692A"/>
<circle cx="626.39" cy="375.03" r="1.9" fill="#10692A"/>
<circle cx="641.52" cy="379.01" r="1.9" fill="#10692A"/>
<circle cx="657.55" cy="395.17" r="1.9" fill="#10692A"/>
<circle cx="647.24" cy="415.89" r="1.9" fill="#10692A"/>
<circle cx="627.00" cy="421.86" r="1.9" fill="#10692A"/>
<circle cx="607.48" cy="421.90" r="1.9" fill="#10692A"/>
<circle cx="580.02" cy="414.12" r="1.9" fill="#10692A"/>
<circle cx="571.47" cy="383.62" r="1.9" fill="#10692A"/>
<circle cx="595.90" cy="364.27" r="1.9" fill="#10692A"/>
<circle cx="619.61" cy="357.14" r="1.9" fill="#10692A"/>
<circle cx="651.36" cy="351.97" r="1.9" fill="#10692A"/>
<circle cx="643.88" cy="383.60" r="1.7" fill="#FFBE0A"/>
<circle cx="634.15" cy="397.17" r="1.7" fill="#FFBE0A"/>
<circle cx="628.42" cy="403.35" r="1.7" fill="#FFBE0A"/>
<circle cx="621.09" cy="405.60" r="1.7" fill="#FFBE0A"/>
<circle cx="611.70" cy="406.07" r="1.7" fill="#FFBE0A"/>
<circle cx="597.11" cy="400.15" r="1.7" fill="#FFBE0A"/>
<circle cx="602.31" cy="385.85" r="1.7" fill="#FFBE0A"/>
<circle cx="614.68" cy="382.33" r="1.7" fill="#FFBE0A"/>
<circle cx="623.04" cy="381.90" r="1.7" fill="#FFBE0A"/>
<circle cx="632.07" cy="383.88" r="1.7" fill="#FFBE0A"/>
<circle cx="638.84" cy="392.62" r="1.7" fill="#FFBE0A"/>
<circle cx="636.38" cy="404.20" r="1.7" fill="#FFBE0A"/>
<circle cx="626.62" cy="410.86" r="1.7" fill="#FFBE0A"/>
<circle cx="614.43" cy="412.48" r="1.7" fill="#FFBE0A"/>
<circle cx="596.92" cy="409.30" r="1.7" fill="#FFBE0A"/>
<circle cx="586.32" cy="390.62" r="1.7" fill="#FFBE0A"/>
<circle cx="604.16" cy="377.99" r="1.7" fill="#FFBE0A"/>
<circle cx="618.35" cy="376.15" r="1.7" fill="#FFBE0A"/>
<circle cx="630.75" cy="376.83" r="1.7" fill="#FFBE0A"/>
<circle cx="647.12" cy="383.22" r="1.7" fill="#FFBE0A"/>
<circle cx="655.55" cy="403.62" r="1.7" fill="#FFBE0A"/>
<circle cx="638.95" cy="418.31" r="1.7" fill="#FFBE0A"/>
<circle cx="620.26" cy="421.06" r="1.7" fill="#FFBE0A"/>
<circle cx="599.53" cy="419.97" r="1.7" fill="#FFBE0A"/>
<circle cx="573.11" cy="404.56" r="1.7" fill="#FFBE0A"/>
<circle cx="580.42" cy="374.59" r="1.7" fill="#FFBE0A"/>
<circle cx="605.15" cy="362.12" r="1.7" fill="#FFBE0A"/>
<circle cx="628.65" cy="356.64" r="1.7" fill="#FFBE0A"/>
<circle cx="671.36" cy="351.10" r="1.7" fill="#FFBE0A"/>
<circle cx="636.38" cy="390.63" r="1.9" fill="#0C1E9A"/>
<circle cx="633.10" cy="399.81" r="1.9" fill="#0C1E9A"/>
<circle cx="626.29" cy="404.67" r="1.9" fill="#0C1E9A"/>
<circle cx="618.48" cy="406.20" r="1.9" fill="#0C1E9A"/>
<circle cx="607.19" cy="405.74" r="1.9" fill="#0C1E9A"/>
<circle cx="595.52" cy="395.05" r="1.9" fill="#0C1E9A"/>
<circle cx="606.55" cy="383.65" r="1.9" fill="#0C1E9A"/>
<circle cx="617.41" cy="381.78" r="1.9" fill="#0C1E9A"/>
<circle cx="625.83" cy="381.84" r="1.9" fill="#0C1E9A"/>
<circle cx="635.04" cy="385.78" r="1.9" fill="#0C1E9A"/>
<circle cx="639.75" cy="396.51" r="1.9" fill="#0C1E9A"/>
<circle cx="634.05" cy="407.34" r="1.9" fill="#0C1E9A"/>
<circle cx="622.99" cy="411.81" r="1.9" fill="#0C1E9A"/>
<circle cx="609.49" cy="412.67" r="1.9" fill="#0C1E9A"/>
<circle cx="590.13" cy="405.46" r="1.9" fill="#0C1E9A"/>
<circle cx="590.05" cy="384.16" r="1.9" fill="#0C1E9A"/>
<circle cx="609.20" cy="376.76" r="1.9" fill="#0C1E9A"/>
<circle cx="622.16" cy="375.74" r="1.9" fill="#0C1E9A"/>
<circle cx="635.53" cy="377.66" r="1.9" fill="#0C1E9A"/>
<circle cx="653.56" cy="388.05" r="1.9" fill="#0C1E9A"/>
<circle cx="652.26" cy="410.36" r="1.9" fill="#0C1E9A"/>
<circle cx="632.86" cy="420.18" r="1.9" fill="#0C1E9A"/>
<circle cx="614.38" cy="421.29" r="1.9" fill="#0C1E9A"/>
<circle cx="590.29" cy="418.31" r="1.9" fill="#0C1E9A"/>
<circle cx="570.19" cy="394.32" r="1.9" fill="#0C1E9A"/>
<circle cx="588.33" cy="368.82" r="1.9" fill="#0C1E9A"/>
<circle cx="612.22" cy="359.70" r="1.9" fill="#0C1E9A"/>
<circle cx="638.17" cy="354.77" r="1.9" fill="#0C1E9A"/>
<circle cx="703.21" cy="349.62" r="1.9" fill="#0C1E9A"/>
<polyline points="635.00,387.20 634.86,386.61 634.44,386.03 633.75,385.47 632.80,384.97 631.63,384.51 630.26,384.13 628.72,383.81 627.05,383.59 625.30,383.45 623.50,383.40 621.70,383.45 619.95,383.59 618.28,383.81 616.74,384.13 615.37,384.51 614.20,384.97 613.25,385.47 612.56,386.03 612.14,386.61 612.00,387.20 612.14,387.79 612.56,388.37 613.25,388.93 614.20,389.43 615.37,389.89 616.74,390.27 618.28,390.59 619.95,390.81 621.70,390.95 623.50,391.00 625.30,390.95 627.05,390.81 628.72,390.59 630.26,390.27 631.63,389.89 632.80,389.43 633.75,388.93 634.44,388.37 634.86,387.79 635.00,387.20" fill="none" stroke="#2540C0" stroke-width="1.4" stroke-linejoin="round" stroke-linecap="round" opacity="1"/>
<circle cx="635.00" cy="387.20" r="1.6" fill="#FFBE0A"/>
<circle cx="633.75" cy="385.47" r="1.6" fill="#FFBE0A"/>
<circle cx="630.26" cy="384.13" r="1.6" fill="#FFBE0A"/>
<circle cx="625.30" cy="383.45" r="1.6" fill="#FFBE0A"/>
<circle cx="619.95" cy="383.59" r="1.6" fill="#FFBE0A"/>
<circle cx="615.37" cy="384.51" r="1.6" fill="#FFBE0A"/>
<circle cx="612.56" cy="386.03" r="1.6" fill="#FFBE0A"/>
<circle cx="612.14" cy="387.79" r="1.6" fill="#FFBE0A"/>
<circle cx="614.20" cy="389.43" r="1.6" fill="#FFBE0A"/>
<circle cx="618.28" cy="390.59" r="1.6" fill="#FFBE0A"/>
<circle cx="623.50" cy="391.00" r="1.6" fill="#FFBE0A"/>
<circle cx="628.72" cy="390.59" r="1.6" fill="#FFBE0A"/>
<circle cx="632.80" cy="389.43" r="1.6" fill="#FFBE0A"/>
<circle cx="634.86" cy="387.79" r="1.6" fill="#FFBE0A"/>
<circle cx="634.86" cy="386.61" r="1.8" fill="#0C1E9A"/>
<circle cx="632.80" cy="384.97" r="1.8" fill="#0C1E9A"/>
<circle cx="628.72" cy="383.81" r="1.8" fill="#0C1E9A"/>
<circle cx="623.50" cy="383.40" r="1.8" fill="#0C1E9A"/>
<circle cx="618.28" cy="383.81" r="1.8" fill="#0C1E9A"/>
<circle cx="614.20" cy="384.97" r="1.8" fill="#0C1E9A"/>
<circle cx="612.14" cy="386.61" r="1.8" fill="#0C1E9A"/>
<circle cx="612.56" cy="388.37" r="1.8" fill="#0C1E9A"/>
<circle cx="615.37" cy="389.89" r="1.8" fill="#0C1E9A"/>
<circle cx="619.95" cy="390.81" r="1.8" fill="#0C1E9A"/>
<circle cx="625.30" cy="390.95" r="1.8" fill="#0C1E9A"/>
<circle cx="630.26" cy="390.27" r="1.8" fill="#0C1E9A"/>
<circle cx="633.75" cy="388.93" r="1.8" fill="#0C1E9A"/>
<ellipse cx="639" cy="372.8" rx="6.8" ry="3.6" fill="none" stroke="#0b22a0" stroke-width="2.2"/>
<ellipse cx="644" cy="370.6" rx="8.6" ry="4.6" fill="#1d45b8" stroke="#0b22a0" stroke-width="1.4"/>
<circle cx="641.3" cy="371.4" r="2.7" fill="#B0282A"/>
<polygon points="531,410.2 533.4,414.2 531,418.2 528.6,414.2" fill="#FFBE0A"/>
<polygon points="612.4,409.8 614.8,413.8 612.4,417.8 610.0,413.8" fill="#10692A"/>
<polygon points="694.2,410.2 696.6,414.2 694.2,418.2 691.8000000000001,414.2" fill="#0C1E9A"/>
<polyline points="745.10,414.20 772.80,432.40 792.30,438.90 871.50,437.60 903.40,418.10 909.10,383.00 923.40,341.50 926.00,319.50 916.31,316.81 814.75,318.01 760.55,341.07 750.81,380.85 765.42,420.80 820.82,440.32 888.92,416.56 901.66,382.48 910.75,327.54 907.13,317.38 809.83,320.90 766.33,342.26 755.95,380.76 780.11,416.85 818.95,427.97 877.11,419.90 907.45,386.01 907.69,338.78 900.66,318.19 826.32,321.30 777.68,330.26 760.26,368.21 768.14,396.06 816.28,417.55 859.82,409.36 887.28,382.54 884.31,352.36 854.43,324.30 799.38,325.83 774.15,348.56 778.98,381.87 817.21,395.99 843.78,394.11 871.89,376.49 880.61,353.14 860.45,329.63 834.57,327.91 799.06,332.02 777.83,355.76 793.00,375.44 809.15,388.52 843.30,381.76 868.07,365.13 871.63,346.05 856.96,337.05 824.73,329.89 797.92,329.64 782.08,343.98 789.29,360.98 810.69,380.24 839.11,378.80 852.11,365.89 867.74,352.60 858.24,336.31 828.03,331.52 809.26,332.14 791.85,347.68 799.31,363.24 823.04,376.87 846.55,374.12 862.07,357.36 860.81,338.35 845.52,332.97 811.61,331.70 793.29,343.66 793.38,349.42 803.51,365.21 830.00,373.19 853.52,358.93 864.07,347.00 859.34,338.38" fill="none" stroke="#FFC425" stroke-width="1.1" stroke-linejoin="round" stroke-linecap="round" opacity="1"/>
<circle cx="772.80" cy="432.40" r="1.6" fill="#FFBE0A"/>
<circle cx="792.30" cy="438.90" r="1.6" fill="#FFBE0A"/>
<circle cx="871.50" cy="437.60" r="1.6" fill="#FFBE0A"/>
<circle cx="903.40" cy="418.10" r="1.6" fill="#FFBE0A"/>
<circle cx="909.10" cy="383.00" r="1.6" fill="#FFBE0A"/>
<circle cx="923.40" cy="341.50" r="1.6" fill="#FFBE0A"/>
<circle cx="926.00" cy="319.50" r="1.6" fill="#FFBE0A"/>
<circle cx="916.31" cy="316.81" r="1.6" fill="#FFBE0A"/>
<circle cx="814.75" cy="318.01" r="1.6" fill="#FFBE0A"/>
<circle cx="760.55" cy="341.07" r="1.6" fill="#FFBE0A"/>
<circle cx="750.81" cy="380.85" r="1.6" fill="#FFBE0A"/>
<circle cx="765.42" cy="420.80" r="1.6" fill="#FFBE0A"/>
<circle cx="820.82" cy="440.32" r="1.6" fill="#FFBE0A"/>
<circle cx="888.92" cy="416.56" r="1.6" fill="#FFBE0A"/>
<circle cx="901.66" cy="382.48" r="1.6" fill="#FFBE0A"/>
<circle cx="910.75" cy="327.54" r="1.6" fill="#FFBE0A"/>
<circle cx="907.13" cy="317.38" r="1.6" fill="#FFBE0A"/>
<circle cx="809.83" cy="320.90" r="1.6" fill="#FFBE0A"/>
<circle cx="766.33" cy="342.26" r="1.6" fill="#FFBE0A"/>
<circle cx="755.95" cy="380.76" r="1.6" fill="#FFBE0A"/>
<circle cx="780.11" cy="416.85" r="1.6" fill="#FFBE0A"/>
<circle cx="818.95" cy="427.97" r="1.6" fill="#FFBE0A"/>
<circle cx="877.11" cy="419.90" r="1.6" fill="#FFBE0A"/>
<circle cx="907.45" cy="386.01" r="1.6" fill="#FFBE0A"/>
<circle cx="907.69" cy="338.78" r="1.6" fill="#FFBE0A"/>
<circle cx="900.66" cy="318.19" r="1.6" fill="#FFBE0A"/>
<circle cx="826.32" cy="321.30" r="1.6" fill="#FFBE0A"/>
<circle cx="777.68" cy="330.26" r="1.6" fill="#FFBE0A"/>
<circle cx="760.26" cy="368.21" r="1.6" fill="#FFBE0A"/>
<circle cx="768.14" cy="396.06" r="1.6" fill="#FFBE0A"/>
<circle cx="816.28" cy="417.55" r="1.6" fill="#FFBE0A"/>
<circle cx="859.82" cy="409.36" r="1.6" fill="#FFBE0A"/>
<circle cx="887.28" cy="382.54" r="1.6" fill="#FFBE0A"/>
<circle cx="884.31" cy="352.36" r="1.6" fill="#FFBE0A"/>
<circle cx="854.43" cy="324.30" r="1.6" fill="#FFBE0A"/>
<circle cx="799.38" cy="325.83" r="1.6" fill="#FFBE0A"/>
<circle cx="774.15" cy="348.56" r="1.6" fill="#FFBE0A"/>
<circle cx="778.98" cy="381.87" r="1.6" fill="#FFBE0A"/>
<circle cx="817.21" cy="395.99" r="1.6" fill="#FFBE0A"/>
<circle cx="843.78" cy="394.11" r="1.6" fill="#FFBE0A"/>
<circle cx="871.89" cy="376.49" r="1.6" fill="#FFBE0A"/>
<circle cx="880.61" cy="353.14" r="1.6" fill="#FFBE0A"/>
<circle cx="860.45" cy="329.63" r="1.6" fill="#FFBE0A"/>
<circle cx="834.57" cy="327.91" r="1.6" fill="#FFBE0A"/>
<circle cx="799.06" cy="332.02" r="1.6" fill="#FFBE0A"/>
<circle cx="777.83" cy="355.76" r="1.6" fill="#FFBE0A"/>
<circle cx="793.00" cy="375.44" r="1.6" fill="#FFBE0A"/>
<circle cx="809.15" cy="388.52" r="1.6" fill="#FFBE0A"/>
<circle cx="843.30" cy="381.76" r="1.6" fill="#FFBE0A"/>
<circle cx="868.07" cy="365.13" r="1.6" fill="#FFBE0A"/>
<circle cx="871.63" cy="346.05" r="1.6" fill="#FFBE0A"/>
<circle cx="856.96" cy="337.05" r="1.6" fill="#FFBE0A"/>
<circle cx="824.73" cy="329.89" r="1.6" fill="#FFBE0A"/>
<circle cx="797.92" cy="329.64" r="1.6" fill="#FFBE0A"/>
<circle cx="782.08" cy="343.98" r="1.6" fill="#FFBE0A"/>
<circle cx="789.29" cy="360.98" r="1.6" fill="#FFBE0A"/>
<circle cx="810.69" cy="380.24" r="1.6" fill="#FFBE0A"/>
<circle cx="839.11" cy="378.80" r="1.6" fill="#FFBE0A"/>
<circle cx="852.11" cy="365.89" r="1.6" fill="#FFBE0A"/>
<circle cx="867.74" cy="352.60" r="1.6" fill="#FFBE0A"/>
<circle cx="858.24" cy="336.31" r="1.6" fill="#FFBE0A"/>
<circle cx="828.03" cy="331.52" r="1.6" fill="#FFBE0A"/>
<circle cx="809.26" cy="332.14" r="1.6" fill="#FFBE0A"/>
<circle cx="791.85" cy="347.68" r="1.6" fill="#FFBE0A"/>
<circle cx="799.31" cy="363.24" r="1.6" fill="#FFBE0A"/>
<circle cx="823.04" cy="376.87" r="1.6" fill="#FFBE0A"/>
<circle cx="846.55" cy="374.12" r="1.6" fill="#FFBE0A"/>
<circle cx="862.07" cy="357.36" r="1.6" fill="#FFBE0A"/>
<circle cx="860.81" cy="338.35" r="1.6" fill="#FFBE0A"/>
<circle cx="845.52" cy="332.97" r="1.6" fill="#FFBE0A"/>
<circle cx="811.61" cy="331.70" r="1.6" fill="#FFBE0A"/>
<circle cx="793.29" cy="343.66" r="1.6" fill="#FFBE0A"/>
<circle cx="793.38" cy="349.42" r="1.6" fill="#FFBE0A"/>
<circle cx="803.51" cy="365.21" r="1.6" fill="#FFBE0A"/>
<circle cx="830.00" cy="373.19" r="1.6" fill="#FFBE0A"/>
<circle cx="853.52" cy="358.93" r="1.6" fill="#FFBE0A"/>
<circle cx="864.07" cy="347.00" r="1.6" fill="#FFBE0A"/>
<circle cx="859.34" cy="338.38" r="1.6" fill="#FFBE0A"/>
<polyline points="826.60,413.70 846.80,400.00 844.20,377.90 820.00,372.00 902.72,321.94 796.34,322.95 760.53,346.40 752.63,381.57 776.40,414.88 838.55,428.99 888.94,400.84 907.41,346.44 893.41,319.30 802.10,323.22 762.05,347.64 765.22,386.64 796.47,408.57 833.71,416.77 867.52,397.35 885.74,377.22 874.20,338.79 840.91,326.13 797.53,325.19 774.87,356.44 778.62,380.48 813.35,392.22 850.98,387.68 875.11,373.58 871.19,344.90 844.61,328.70 813.18,327.27 783.96,340.42 786.11,361.98 790.69,375.42 818.51,385.51 845.14,382.94 864.72,367.47 867.13,342.52 843.13,331.01 807.06,327.96 792.24,342.86 792.15,358.61 809.04,375.68 841.39,377.38 860.42,364.24 864.80,348.28 852.98,329.85 829.26,325.25 795.48,337.57 789.79,348.60 797.31,361.41 819.19,371.61 842.70,370.83 861.23,360.89 861.31,343.99 839.52,329.49 816.84,332.51 798.47,336.12 793.26,353.77 802.87,361.61 822.66,371.73 844.70,364.12 859.56,353.69 851.50,339.56" fill="none" stroke="#2A8A3C" stroke-width="1.1" stroke-linejoin="round" stroke-linecap="round" opacity="1"/>
<circle cx="846.80" cy="400.00" r="1.7" fill="#10692A"/>
<circle cx="844.20" cy="377.90" r="1.7" fill="#10692A"/>
<circle cx="820.00" cy="372.00" r="1.7" fill="#10692A"/>
<circle cx="902.72" cy="321.94" r="1.7" fill="#10692A"/>
<circle cx="796.34" cy="322.95" r="1.7" fill="#10692A"/>
<circle cx="760.53" cy="346.40" r="1.7" fill="#10692A"/>
<circle cx="752.63" cy="381.57" r="1.7" fill="#10692A"/>
<circle cx="776.40" cy="414.88" r="1.7" fill="#10692A"/>
<circle cx="838.55" cy="428.99" r="1.7" fill="#10692A"/>
<circle cx="888.94" cy="400.84" r="1.7" fill="#10692A"/>
<circle cx="907.41" cy="346.44" r="1.7" fill="#10692A"/>
<circle cx="893.41" cy="319.30" r="1.7" fill="#10692A"/>
<circle cx="802.10" cy="323.22" r="1.7" fill="#10692A"/>
<circle cx="762.05" cy="347.64" r="1.7" fill="#10692A"/>
<circle cx="765.22" cy="386.64" r="1.7" fill="#10692A"/>
<circle cx="796.47" cy="408.57" r="1.7" fill="#10692A"/>
<circle cx="833.71" cy="416.77" r="1.7" fill="#10692A"/>
<circle cx="867.52" cy="397.35" r="1.7" fill="#10692A"/>
<circle cx="885.74" cy="377.22" r="1.7" fill="#10692A"/>
<circle cx="874.20" cy="338.79" r="1.7" fill="#10692A"/>
<circle cx="840.91" cy="326.13" r="1.7" fill="#10692A"/>
<circle cx="797.53" cy="325.19" r="1.7" fill="#10692A"/>
<circle cx="774.87" cy="356.44" r="1.7" fill="#10692A"/>
<circle cx="778.62" cy="380.48" r="1.7" fill="#10692A"/>
<circle cx="813.35" cy="392.22" r="1.7" fill="#10692A"/>
<circle cx="850.98" cy="387.68" r="1.7" fill="#10692A"/>
<circle cx="875.11" cy="373.58" r="1.7" fill="#10692A"/>
<circle cx="871.19" cy="344.90" r="1.7" fill="#10692A"/>
<circle cx="844.61" cy="328.70" r="1.7" fill="#10692A"/>
<circle cx="813.18" cy="327.27" r="1.7" fill="#10692A"/>
<circle cx="783.96" cy="340.42" r="1.7" fill="#10692A"/>
<circle cx="786.11" cy="361.98" r="1.7" fill="#10692A"/>
<circle cx="790.69" cy="375.42" r="1.7" fill="#10692A"/>
<circle cx="818.51" cy="385.51" r="1.7" fill="#10692A"/>
<circle cx="845.14" cy="382.94" r="1.7" fill="#10692A"/>
<circle cx="864.72" cy="367.47" r="1.7" fill="#10692A"/>
<circle cx="867.13" cy="342.52" r="1.7" fill="#10692A"/>
<circle cx="843.13" cy="331.01" r="1.7" fill="#10692A"/>
<circle cx="807.06" cy="327.96" r="1.7" fill="#10692A"/>
<circle cx="792.24" cy="342.86" r="1.7" fill="#10692A"/>
<circle cx="792.15" cy="358.61" r="1.7" fill="#10692A"/>
<circle cx="809.04" cy="375.68" r="1.7" fill="#10692A"/>
<circle cx="841.39" cy="377.38" r="1.7" fill="#10692A"/>
<circle cx="860.42" cy="364.24" r="1.7" fill="#10692A"/>
<circle cx="864.80" cy="348.28" r="1.7" fill="#10692A"/>
<circle cx="852.98" cy="329.85" r="1.7" fill="#10692A"/>
<circle cx="829.26" cy="325.25" r="1.7" fill="#10692A"/>
<circle cx="795.48" cy="337.57" r="1.7" fill="#10692A"/>
<circle cx="789.79" cy="348.60" r="1.7" fill="#10692A"/>
<circle cx="797.31" cy="361.41" r="1.7" fill="#10692A"/>
<circle cx="819.19" cy="371.61" r="1.7" fill="#10692A"/>
<circle cx="842.70" cy="370.83" r="1.7" fill="#10692A"/>
<circle cx="861.23" cy="360.89" r="1.7" fill="#10692A"/>
<circle cx="861.31" cy="343.99" r="1.7" fill="#10692A"/>
<circle cx="839.52" cy="329.49" r="1.7" fill="#10692A"/>
<circle cx="816.84" cy="332.51" r="1.7" fill="#10692A"/>
<circle cx="798.47" cy="336.12" r="1.7" fill="#10692A"/>
<circle cx="793.26" cy="353.77" r="1.7" fill="#10692A"/>
<circle cx="802.87" cy="361.61" r="1.7" fill="#10692A"/>
<circle cx="822.66" cy="371.73" r="1.7" fill="#10692A"/>
<circle cx="844.70" cy="364.12" r="1.7" fill="#10692A"/>
<circle cx="859.56" cy="353.69" r="1.7" fill="#10692A"/>
<circle cx="851.50" cy="339.56" r="1.7" fill="#10692A"/>
<polyline points="908.60,414.20 909.10,380.50 922.00,341.50 924.70,313.00 921.78,312.52 838.73,320.09 781.34,329.12 748.14,365.46 758.98,403.90 807.43,434.16 874.33,419.28 895.86,397.11 913.46,337.32 892.77,315.82 808.39,319.52 777.66,336.88 756.44,356.15 755.74,396.90 801.84,421.61 855.80,424.14 897.40,390.53 905.78,334.88 867.00,321.46 802.84,323.22 777.38,336.15 765.89,357.31 766.62,385.07 798.14,409.46 840.65,408.02 878.12,388.63 879.24,351.04 854.00,331.18 820.21,321.23 778.19,342.10 777.51,368.43 790.67,389.92 818.14,396.36 849.20,391.13 863.90,381.17 876.86,363.46 872.30,343.51 840.83,328.67 802.44,331.34 783.39,345.57 787.17,370.62 804.30,378.47 823.59,387.26 861.44,371.11 867.14,354.04 859.20,331.15 830.24,323.72 799.81,330.82 782.11,352.98 786.22,367.75 811.01,378.78 831.73,381.64 850.53,372.92 866.95,362.10 862.62,339.80 839.59,329.91 804.42,330.85 789.28,340.42 793.74,361.89 807.98,367.83 825.04,373.87 854.39,366.30 861.56,350.55 853.77,336.62 832.60,326.91 807.23,333.47 797.94,342.13 795.97,356.80 808.59,365.41 824.51,371.58 847.87,363.56 857.15,353.93 854.49,337.68 834.39,328.08 819.37,331.61 797.12,336.50 791.92,343.18 805.63,363.07 818.98,365.14 843.18,362.23 856.16,347.90 852.46,333.43" fill="none" stroke="#2540C0" stroke-width="1.1" stroke-linejoin="round" stroke-linecap="round" opacity="1"/>
<circle cx="909.10" cy="380.50" r="1.7" fill="#0C1E9A"/>
<circle cx="922.00" cy="341.50" r="1.7" fill="#0C1E9A"/>
<circle cx="924.70" cy="313.00" r="1.7" fill="#0C1E9A"/>
<circle cx="921.78" cy="312.52" r="1.7" fill="#0C1E9A"/>
<circle cx="838.73" cy="320.09" r="1.7" fill="#0C1E9A"/>
<circle cx="781.34" cy="329.12" r="1.7" fill="#0C1E9A"/>
<circle cx="748.14" cy="365.46" r="1.7" fill="#0C1E9A"/>
<circle cx="758.98" cy="403.90" r="1.7" fill="#0C1E9A"/>
<circle cx="807.43" cy="434.16" r="1.7" fill="#0C1E9A"/>
<circle cx="874.33" cy="419.28" r="1.7" fill="#0C1E9A"/>
<circle cx="895.86" cy="397.11" r="1.7" fill="#0C1E9A"/>
<circle cx="913.46" cy="337.32" r="1.7" fill="#0C1E9A"/>
<circle cx="892.77" cy="315.82" r="1.7" fill="#0C1E9A"/>
<circle cx="808.39" cy="319.52" r="1.7" fill="#0C1E9A"/>
<circle cx="777.66" cy="336.88" r="1.7" fill="#0C1E9A"/>
<circle cx="756.44" cy="356.15" r="1.7" fill="#0C1E9A"/>
<circle cx="755.74" cy="396.90" r="1.7" fill="#0C1E9A"/>
<circle cx="801.84" cy="421.61" r="1.7" fill="#0C1E9A"/>
<circle cx="855.80" cy="424.14" r="1.7" fill="#0C1E9A"/>
<circle cx="897.40" cy="390.53" r="1.7" fill="#0C1E9A"/>
<circle cx="905.78" cy="334.88" r="1.7" fill="#0C1E9A"/>
<circle cx="867.00" cy="321.46" r="1.7" fill="#0C1E9A"/>
<circle cx="802.84" cy="323.22" r="1.7" fill="#0C1E9A"/>
<circle cx="777.38" cy="336.15" r="1.7" fill="#0C1E9A"/>
<circle cx="765.89" cy="357.31" r="1.7" fill="#0C1E9A"/>
<circle cx="766.62" cy="385.07" r="1.7" fill="#0C1E9A"/>
<circle cx="798.14" cy="409.46" r="1.7" fill="#0C1E9A"/>
<circle cx="840.65" cy="408.02" r="1.7" fill="#0C1E9A"/>
<circle cx="878.12" cy="388.63" r="1.7" fill="#0C1E9A"/>
<circle cx="879.24" cy="351.04" r="1.7" fill="#0C1E9A"/>
<circle cx="854.00" cy="331.18" r="1.7" fill="#0C1E9A"/>
<circle cx="820.21" cy="321.23" r="1.7" fill="#0C1E9A"/>
<circle cx="778.19" cy="342.10" r="1.7" fill="#0C1E9A"/>
<circle cx="777.51" cy="368.43" r="1.7" fill="#0C1E9A"/>
<circle cx="790.67" cy="389.92" r="1.7" fill="#0C1E9A"/>
<circle cx="818.14" cy="396.36" r="1.7" fill="#0C1E9A"/>
<circle cx="849.20" cy="391.13" r="1.7" fill="#0C1E9A"/>
<circle cx="863.90" cy="381.17" r="1.7" fill="#0C1E9A"/>
<circle cx="876.86" cy="363.46" r="1.7" fill="#0C1E9A"/>
<circle cx="872.30" cy="343.51" r="1.7" fill="#0C1E9A"/>
<circle cx="840.83" cy="328.67" r="1.7" fill="#0C1E9A"/>
<circle cx="802.44" cy="331.34" r="1.7" fill="#0C1E9A"/>
<circle cx="783.39" cy="345.57" r="1.7" fill="#0C1E9A"/>
<circle cx="787.17" cy="370.62" r="1.7" fill="#0C1E9A"/>
<circle cx="804.30" cy="378.47" r="1.7" fill="#0C1E9A"/>
<circle cx="823.59" cy="387.26" r="1.7" fill="#0C1E9A"/>
<circle cx="861.44" cy="371.11" r="1.7" fill="#0C1E9A"/>
<circle cx="867.14" cy="354.04" r="1.7" fill="#0C1E9A"/>
<circle cx="859.20" cy="331.15" r="1.7" fill="#0C1E9A"/>
<circle cx="830.24" cy="323.72" r="1.7" fill="#0C1E9A"/>
<circle cx="799.81" cy="330.82" r="1.7" fill="#0C1E9A"/>
<circle cx="782.11" cy="352.98" r="1.7" fill="#0C1E9A"/>
<circle cx="786.22" cy="367.75" r="1.7" fill="#0C1E9A"/>
<circle cx="811.01" cy="378.78" r="1.7" fill="#0C1E9A"/>
<circle cx="831.73" cy="381.64" r="1.7" fill="#0C1E9A"/>
<circle cx="850.53" cy="372.92" r="1.7" fill="#0C1E9A"/>
<circle cx="866.95" cy="362.10" r="1.7" fill="#0C1E9A"/>
<circle cx="862.62" cy="339.80" r="1.7" fill="#0C1E9A"/>
<circle cx="839.59" cy="329.91" r="1.7" fill="#0C1E9A"/>
<circle cx="804.42" cy="330.85" r="1.7" fill="#0C1E9A"/>
<circle cx="789.28" cy="340.42" r="1.7" fill="#0C1E9A"/>
<circle cx="793.74" cy="361.89" r="1.7" fill="#0C1E9A"/>
<circle cx="807.98" cy="367.83" r="1.7" fill="#0C1E9A"/>
<circle cx="825.04" cy="373.87" r="1.7" fill="#0C1E9A"/>
<circle cx="854.39" cy="366.30" r="1.7" fill="#0C1E9A"/>
<circle cx="861.56" cy="350.55" r="1.7" fill="#0C1E9A"/>
<circle cx="853.77" cy="336.62" r="1.7" fill="#0C1E9A"/>
<circle cx="832.60" cy="326.91" r="1.7" fill="#0C1E9A"/>
<circle cx="807.23" cy="333.47" r="1.7" fill="#0C1E9A"/>
<circle cx="797.94" cy="342.13" r="1.7" fill="#0C1E9A"/>
<circle cx="795.97" cy="356.80" r="1.7" fill="#0C1E9A"/>
<circle cx="808.59" cy="365.41" r="1.7" fill="#0C1E9A"/>
<circle cx="824.51" cy="371.58" r="1.7" fill="#0C1E9A"/>
<circle cx="847.87" cy="363.56" r="1.7" fill="#0C1E9A"/>
<circle cx="857.15" cy="353.93" r="1.7" fill="#0C1E9A"/>
<circle cx="854.49" cy="337.68" r="1.7" fill="#0C1E9A"/>
<circle cx="834.39" cy="328.08" r="1.7" fill="#0C1E9A"/>
<circle cx="819.37" cy="331.61" r="1.7" fill="#0C1E9A"/>
<circle cx="797.12" cy="336.50" r="1.7" fill="#0C1E9A"/>
<circle cx="791.92" cy="343.18" r="1.7" fill="#0C1E9A"/>
<circle cx="805.63" cy="363.07" r="1.7" fill="#0C1E9A"/>
<circle cx="818.98" cy="365.14" r="1.7" fill="#0C1E9A"/>
<circle cx="843.18" cy="362.23" r="1.7" fill="#0C1E9A"/>
<circle cx="856.16" cy="347.90" r="1.7" fill="#0C1E9A"/>
<circle cx="852.46" cy="333.43" r="1.7" fill="#0C1E9A"/>
<polyline points="918.91,317.08 827.07,319.31 764.16,340.32 753.80,388.04 772.49,412.49 820.91,428.07 862.76,425.30 897.99,390.30 908.60,340.91 917.67,315.78 847.21,321.30 798.46,325.54 761.18,355.68 769.77,390.67 794.58,406.80 828.33,411.14 867.69,397.10 884.76,371.87 874.85,342.09 838.24,326.89 813.42,326.78 789.83,334.84 771.64,357.03 785.95,376.96 818.12,394.45 845.77,388.92 869.09,370.06 870.87,341.22 836.73,326.28 809.52,328.33 784.70,346.64 784.39,363.02 802.73,379.58 822.00,384.09 851.76,373.89 869.02,357.89 859.60,342.72 847.29,332.42 826.88,329.27 800.31,332.51 784.61,351.36 791.08,367.72 819.61,377.69 845.34,376.07 861.32,363.55 869.24,351.10" fill="none" stroke="#15153a" stroke-width="0.9" stroke-linejoin="round" stroke-linecap="round" opacity="0.85"/>
<polygon points="820.5,365.5 819.8,365.3 818.9,365.0 817.8,364.6 816.6,364.2 815.3,363.7 814.1,363.2 813.0,362.6 812.0,362.0 811.2,361.3 810.3,360.5 809.6,359.7 808.9,358.8 808.2,357.9 807.7,356.9 807.2,355.9 806.8,355.0 806.5,354.0 806.3,353.0 806.2,352.0 806.1,351.0 806.2,349.9 806.3,348.9 806.5,347.9 806.8,347.0 807.2,346.1 807.6,345.2 808.1,344.4 808.7,343.5 809.4,342.7 810.3,342.0 811.2,341.3 812.3,340.6 813.6,340.0 815.0,339.4 816.6,338.9 818.3,338.4 820.1,338.0 821.9,337.6 823.6,337.3 825.3,337.1 827.0,337.0 828.7,336.9 830.5,336.9 832.2,337.0 833.9,337.2 835.5,337.4 837.0,337.7 838.3,338.0 839.5,338.4 840.6,339.0 841.6,339.6 842.6,340.2 843.4,340.9 844.0,341.7 844.6,342.4 845.0,343.2 845.3,344.0 845.4,344.8 845.4,345.7 845.3,346.6 845.0,347.6 844.6,348.4 844.1,349.3 843.5,350.0 842.7,350.7 841.7,351.3 840.6,351.9 839.3,352.5 838.0,353.0 836.6,353.5 835.3,354.0 834.0,354.4 832.7,354.7 831.3,355.0 829.9,355.2 828.5,355.4 827.2,355.6 825.9,355.8 824.7,356.0 823.6,356.2 822.7,356.5 821.8,356.8 821.1,357.1 820.4,357.4 819.8,357.7 819.3,358.0 818.8,358.4 818.4,358.8 818.0,359.2 817.8,359.7 817.5,360.2 817.4,360.8 817.3,361.3 817.3,361.8 817.3,362.3 817.4,362.8 817.6,363.3 818.0,363.7 818.4,364.2 818.9,364.7 819.4,365.1 819.8,365.4 820.2,365.8 820.5,366.0" fill="#2a55c0"/>
<ellipse cx="826" cy="347" rx="10" ry="5" fill="#2f8f4a"/>
<ellipse cx="829" cy="346" rx="4" ry="2" fill="#cfe8d6"/>
<polyline points="820.50,365.50 819.82,365.25 818.90,364.95 817.79,364.60 816.57,364.19 815.32,363.72 814.09,363.20 812.96,362.63 812.00,362.00 811.16,361.30 810.35,360.52 809.58,359.68 808.87,358.78 808.22,357.85 807.66,356.90 807.18,355.95 806.80,355.00 806.51,354.04 806.31,353.03 806.18,352.00 806.13,350.96 806.17,349.93 806.29,348.91 806.50,347.93 806.80,347.00 807.17,346.10 807.61,345.22 808.13,344.36 808.74,343.52 809.45,342.72 810.27,341.96 811.22,341.25 812.30,340.60 813.57,339.99 815.02,339.42 816.63,338.88 818.33,338.39 820.10,337.96 821.87,337.60 823.62,337.31 825.30,337.10 826.97,336.97 828.70,336.91 830.45,336.93 832.19,337.01 833.89,337.15 835.49,337.37 836.98,337.65 838.30,338.00 839.50,338.43 840.61,338.96 841.63,339.56 842.56,340.23 843.36,340.94 844.05,341.69 844.60,342.44 845.00,343.20 845.26,343.99 845.39,344.84 845.39,345.74 845.26,346.65 845.01,347.56 844.63,348.43 844.13,349.25 843.50,350.00 842.70,350.68 841.71,351.33 840.56,351.94 839.31,352.51 837.98,353.05 836.63,353.54 835.29,353.99 834.00,354.40 832.71,354.74 831.34,355.01 829.94,355.23 828.53,355.41 827.16,355.58 825.86,355.75 824.66,355.95 823.60,356.20 822.67,356.48 821.84,356.76 821.08,357.05 820.41,357.36 819.81,357.69 819.28,358.03 818.81,358.40 818.40,358.80 818.05,359.24 817.76,359.72 817.54,360.23 817.38,360.76 817.29,361.30 817.26,361.82 817.30,362.33 817.40,362.80 817.61,363.26 817.96,363.73 818.40,364.20 818.89,364.65 819.38,365.07 819.85,365.44 820.23,365.76 820.50,366.00" fill="none" stroke="#A32A2C" stroke-width="6.6" stroke-linejoin="round" stroke-linecap="round" opacity="1"/>
<polygon points="745.1,410.2 747.5,414.2 745.1,418.2 742.7,414.2" fill="#FFBE0A"/>
<polygon points="826.6,409.7 829.0,413.7 826.6,417.7 824.2,413.7" fill="#10692A"/>
<polygon points="908.6,410.2 911.0,414.2 908.6,418.2 906.2,414.2" fill="#0C1E9A"/>
<rect x="521.5" y="293.3" width="49.5" height="28.19999999999999" rx="2" fill="#fff" fill-opacity="0.8" stroke="#d6d6d6" stroke-width="1"/>
<text x="528.5" y="304.9" font-family="Liberation Sans" font-size="11.6" font-style="italic" fill="#111" stroke="#111" stroke-width="0.3">K</text>
<line x1="526" y1="307.2" x2="538.8" y2="307.2" stroke="#222" stroke-width="1"/>
<text x="528.8" y="317.5" font-family="Liberation Sans" font-size="12" font-style="italic" fill="#111" stroke="#111" stroke-width="0.3">d</text>
<text x="540.2" y="311" font-family="Liberation Sans" font-size="12.6" font-style="italic" fill="#111" stroke="#111" stroke-width="0.3" textLength="26.5" lengthAdjust="spacingAndGlyphs">=2.8</text>
<rect x="739.9" y="294.2" width="41.60000000000002" height="26.80000000000001" rx="2" fill="#fff" fill-opacity="0.8" stroke="#d6d6d6" stroke-width="1"/>
<text x="744.2" y="304.9" font-family="Liberation Sans" font-size="11.6" font-style="italic" fill="#111" stroke="#111" stroke-width="0.3">K</text>
<line x1="742.1" y1="307.1" x2="753.8" y2="307.1" stroke="#222" stroke-width="1"/>
<text x="744.3" y="317.5" font-family="Liberation Sans" font-size="12" font-style="italic" fill="#111" stroke="#111" stroke-width="0.3">d</text>
<text x="754.8" y="310.1" font-family="Liberation Sans" font-size="12.6" font-style="italic" fill="#111" stroke="#111" stroke-width="0.3" textLength="25" lengthAdjust="spacingAndGlyphs">=3.2</text>
<rect x="580.4" y="293.8" width="128.8" height="48.1" rx="2" fill="#fff" fill-opacity="0.8" stroke="#d6d6d6" stroke-width="1"/>
<line x1="583.8" y1="302.3" x2="604.7" y2="302.3" stroke="#FFC425" stroke-width="1.3"/>
<circle cx="594.1" cy="302.3" r="1.8" fill="#FFC425"/>
<text x="612.0" y="305.3" font-family="Liberation Sans" fill="#111" stroke="#111" stroke-width="0.15" font-size="10" font-style="italic">x</text>
<text x="617.6" y="306.8" font-family="Liberation Sans" fill="#111" stroke="#111" stroke-width="0.15" font-size="6.9" font-style="italic">ini</text>
<text x="629.5" y="305.3" font-family="Liberation Sans" fill="#111" stroke="#111" stroke-width="0.15" font-size="11.5">=</text>
<text x="639.0" y="305.3" font-family="Liberation Sans" fill="#111" stroke="#111" stroke-width="0.15" font-size="10.4" textLength="19.3" lengthAdjust="spacingAndGlyphs">0.1,</text>
<text x="661.3" y="305.3" font-family="Liberation Sans" fill="#111" stroke="#111" stroke-width="0.15" font-size="10" font-style="italic">λ</text>
<text x="667.9" y="306.8" font-family="Liberation Sans" fill="#111" stroke="#111" stroke-width="0.15" font-size="6.9" font-style="italic">ini</text>
<text x="678.3" y="305.3" font-family="Liberation Sans" fill="#111" stroke="#111" stroke-width="0.15" font-size="11.5">=</text>
<text x="688.6" y="305.3" font-family="Liberation Sans" fill="#111" stroke="#111" stroke-width="0.15" font-size="10.4" textLength="15.6" lengthAdjust="spacingAndGlyphs">1.0</text>
<line x1="583.8" y1="317.3" x2="604.7" y2="317.3" stroke="#2A8A3C" stroke-width="1.3"/>
<circle cx="594.1" cy="317.3" r="1.8" fill="#2A8A3C"/>
<text x="612.0" y="320.3" font-family="Liberation Sans" fill="#111" stroke="#111" stroke-width="0.15" font-size="10" font-style="italic">x</text>
<text x="617.6" y="321.8" font-family="Liberation Sans" fill="#111" stroke="#111" stroke-width="0.15" font-size="6.9" font-style="italic">ini</text>
<text x="629.5" y="320.3" font-family="Liberation Sans" fill="#111" stroke="#111" stroke-width="0.15" font-size="11.5">=</text>
<text x="639.0" y="320.3" font-family="Liberation Sans" fill="#111" stroke="#111" stroke-width="0.15" font-size="10.4" textLength="19.3" lengthAdjust="spacingAndGlyphs">0.5,</text>
<text x="661.3" y="320.3" font-family="Liberation Sans" fill="#111" stroke="#111" stroke-width="0.15" font-size="10" font-style="italic">λ</text>
<text x="667.9" y="321.8" font-family="Liberation Sans" fill="#111" stroke="#111" stroke-width="0.15" font-size="6.9" font-style="italic">ini</text>
<text x="678.3" y="320.3" font-family="Liberation Sans" fill="#111" stroke="#111" stroke-width="0.15" font-size="11.5">=</text>
<text x="688.6" y="320.3" font-family="Liberation Sans" fill="#111" stroke="#111" stroke-width="0.15" font-size="10.4" textLength="15.6" lengthAdjust="spacingAndGlyphs">1.0</text>
<line x1="583.8" y1="332.2" x2="604.7" y2="332.2" stroke="#2540C0" stroke-width="1.3"/>
<circle cx="594.1" cy="332.2" r="1.8" fill="#2540C0"/>
<text x="612.0" y="335.2" font-family="Liberation Sans" fill="#111" stroke="#111" stroke-width="0.15" font-size="10" font-style="italic">x</text>
<text x="617.6" y="336.7" font-family="Liberation Sans" fill="#111" stroke="#111" stroke-width="0.15" font-size="6.9" font-style="italic">ini</text>
<text x="629.5" y="335.2" font-family="Liberation Sans" fill="#111" stroke="#111" stroke-width="0.15" font-size="11.5">=</text>
<text x="639.0" y="335.2" font-family="Liberation Sans" fill="#111" stroke="#111" stroke-width="0.15" font-size="10.4" textLength="19.3" lengthAdjust="spacingAndGlyphs">0.9,</text>
<text x="661.3" y="335.2" font-family="Liberation Sans" fill="#111" stroke="#111" stroke-width="0.15" font-size="10" font-style="italic">λ</text>
<text x="667.9" y="336.7" font-family="Liberation Sans" fill="#111" stroke="#111" stroke-width="0.15" font-size="6.9" font-style="italic">ini</text>
<text x="678.3" y="335.2" font-family="Liberation Sans" fill="#111" stroke="#111" stroke-width="0.15" font-size="11.5">=</text>
<text x="688.6" y="335.2" font-family="Liberation Sans" fill="#111" stroke="#111" stroke-width="0.15" font-size="10.4" textLength="15.6" lengthAdjust="spacingAndGlyphs">1.0</text>
<rect x="510.6" y="288.8" width="204.0" height="167.2" fill="none" stroke="#262626" stroke-width="1.25"/>
<rect x="724.7" y="288.8" width="204.0" height="167.2" fill="none" stroke="#262626" stroke-width="1.25"/>
</svg></body></html>
